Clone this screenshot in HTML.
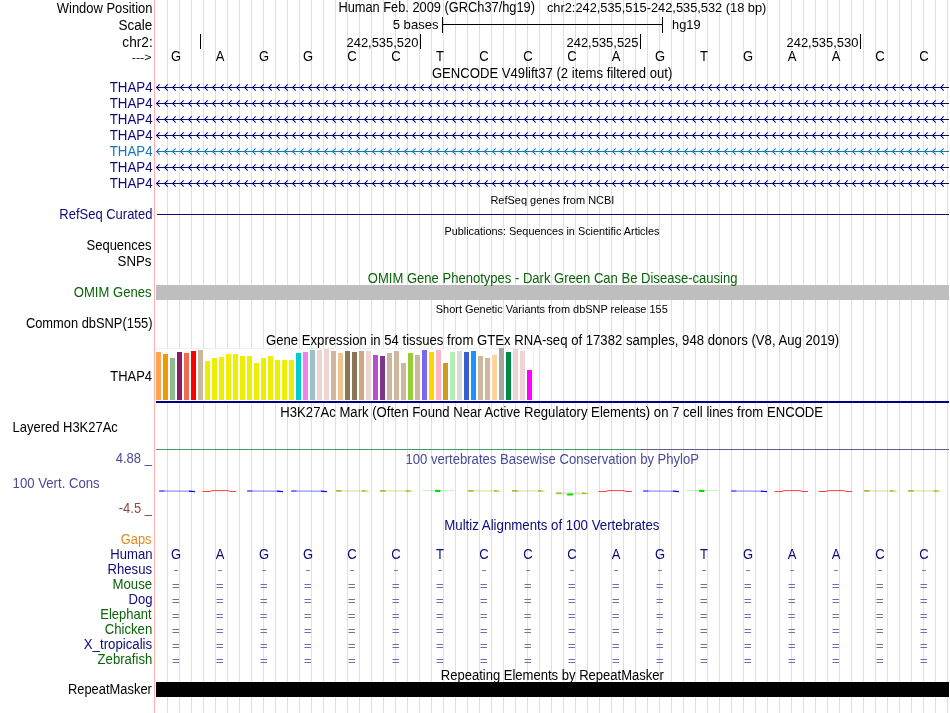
<!DOCTYPE html>
<html><head><meta charset="utf-8"><title>UCSC Genome Browser</title>
<style>html,body{margin:0;padding:0;background:#fff;overflow:hidden}svg{display:block;will-change:transform}text{shape-rendering:auto}</style>
</head><body><svg width="950" height="713" viewBox="0 0 950 713" font-family='"Liberation Sans", sans-serif' shape-rendering="crispEdges"><rect x="167" y="0" width="1" height="713" fill="#dcdcff"/><rect x="179" y="0" width="1" height="713" fill="#dcdcff"/><rect x="191" y="0" width="1" height="713" fill="#dcdcff"/><rect x="203" y="0" width="1" height="713" fill="#dcdcff"/><rect x="215" y="0" width="1" height="713" fill="#dcdcff"/><rect x="227" y="0" width="1" height="713" fill="#dcdcff"/><rect x="239" y="0" width="1" height="713" fill="#dcdcff"/><rect x="251" y="0" width="1" height="713" fill="#dcdcff"/><rect x="263" y="0" width="1" height="713" fill="#dcdcff"/><rect x="275" y="0" width="1" height="713" fill="#dcdcff"/><rect x="287" y="0" width="1" height="713" fill="#dcdcff"/><rect x="299" y="0" width="1" height="713" fill="#dcdcff"/><rect x="311" y="0" width="1" height="713" fill="#dcdcff"/><rect x="323" y="0" width="1" height="713" fill="#dcdcff"/><rect x="335" y="0" width="1" height="713" fill="#dcdcff"/><rect x="347" y="0" width="1" height="713" fill="#dcdcff"/><rect x="359" y="0" width="1" height="713" fill="#dcdcff"/><rect x="371" y="0" width="1" height="713" fill="#dcdcff"/><rect x="383" y="0" width="1" height="713" fill="#dcdcff"/><rect x="395" y="0" width="1" height="713" fill="#dcdcff"/><rect x="407" y="0" width="1" height="713" fill="#dcdcff"/><rect x="419" y="0" width="1" height="713" fill="#dcdcff"/><rect x="431" y="0" width="1" height="713" fill="#dcdcff"/><rect x="443" y="0" width="1" height="713" fill="#dcdcff"/><rect x="455" y="0" width="1" height="713" fill="#dcdcff"/><rect x="467" y="0" width="1" height="713" fill="#dcdcff"/><rect x="479" y="0" width="1" height="713" fill="#dcdcff"/><rect x="491" y="0" width="1" height="713" fill="#dcdcff"/><rect x="503" y="0" width="1" height="713" fill="#dcdcff"/><rect x="515" y="0" width="1" height="713" fill="#dcdcff"/><rect x="527" y="0" width="1" height="713" fill="#dcdcff"/><rect x="539" y="0" width="1" height="713" fill="#dcdcff"/><rect x="551" y="0" width="1" height="713" fill="#dcdcff"/><rect x="563" y="0" width="1" height="713" fill="#dcdcff"/><rect x="575" y="0" width="1" height="713" fill="#dcdcff"/><rect x="587" y="0" width="1" height="713" fill="#dcdcff"/><rect x="599" y="0" width="1" height="713" fill="#dcdcff"/><rect x="611" y="0" width="1" height="713" fill="#dcdcff"/><rect x="623" y="0" width="1" height="713" fill="#dcdcff"/><rect x="635" y="0" width="1" height="713" fill="#dcdcff"/><rect x="647" y="0" width="1" height="713" fill="#dcdcff"/><rect x="659" y="0" width="1" height="713" fill="#dcdcff"/><rect x="671" y="0" width="1" height="713" fill="#dcdcff"/><rect x="683" y="0" width="1" height="713" fill="#dcdcff"/><rect x="695" y="0" width="1" height="713" fill="#dcdcff"/><rect x="707" y="0" width="1" height="713" fill="#dcdcff"/><rect x="719" y="0" width="1" height="713" fill="#dcdcff"/><rect x="731" y="0" width="1" height="713" fill="#dcdcff"/><rect x="743" y="0" width="1" height="713" fill="#dcdcff"/><rect x="755" y="0" width="1" height="713" fill="#dcdcff"/><rect x="767" y="0" width="1" height="713" fill="#dcdcff"/><rect x="779" y="0" width="1" height="713" fill="#dcdcff"/><rect x="791" y="0" width="1" height="713" fill="#dcdcff"/><rect x="803" y="0" width="1" height="713" fill="#dcdcff"/><rect x="815" y="0" width="1" height="713" fill="#dcdcff"/><rect x="827" y="0" width="1" height="713" fill="#dcdcff"/><rect x="839" y="0" width="1" height="713" fill="#dcdcff"/><rect x="851" y="0" width="1" height="713" fill="#dcdcff"/><rect x="863" y="0" width="1" height="713" fill="#dcdcff"/><rect x="875" y="0" width="1" height="713" fill="#dcdcff"/><rect x="887" y="0" width="1" height="713" fill="#dcdcff"/><rect x="899" y="0" width="1" height="713" fill="#dcdcff"/><rect x="911" y="0" width="1" height="713" fill="#dcdcff"/><rect x="923" y="0" width="1" height="713" fill="#dcdcff"/><rect x="935" y="0" width="1" height="713" fill="#dcdcff"/><rect x="947" y="0" width="1" height="713" fill="#dcdcff"/><rect x="154" y="0" width="1" height="713" fill="#ffb0b0"/><rect x="442" y="17" width="1" height="16" fill="#000000"/><rect x="662" y="17" width="1" height="16" fill="#000000"/><rect x="442" y="24" width="221" height="1" fill="#000000"/><rect x="200" y="34" width="1" height="15" fill="#000000"/><rect x="420" y="34" width="1" height="15" fill="#000000"/><rect x="640" y="34" width="1" height="15" fill="#000000"/><rect x="860" y="34" width="1" height="15" fill="#000000"/><text transform="translate(176.00 61) scale(1.0000 1.06)" font-size="13" fill="#000000" text-anchor="middle" xml:space="preserve">G</text><text transform="translate(220.00 61) scale(1.0000 1.06)" font-size="13" fill="#000000" text-anchor="middle" xml:space="preserve">A</text><text transform="translate(264.00 61) scale(1.0000 1.06)" font-size="13" fill="#000000" text-anchor="middle" xml:space="preserve">G</text><text transform="translate(308.00 61) scale(1.0000 1.06)" font-size="13" fill="#000000" text-anchor="middle" xml:space="preserve">G</text><text transform="translate(352.00 61) scale(1.0000 1.06)" font-size="13" fill="#000000" text-anchor="middle" xml:space="preserve">C</text><text transform="translate(396.00 61) scale(1.0000 1.06)" font-size="13" fill="#000000" text-anchor="middle" xml:space="preserve">C</text><text transform="translate(440.00 61) scale(1.0000 1.06)" font-size="13" fill="#000000" text-anchor="middle" xml:space="preserve">T</text><text transform="translate(484.00 61) scale(1.0000 1.06)" font-size="13" fill="#000000" text-anchor="middle" xml:space="preserve">C</text><text transform="translate(528.00 61) scale(1.0000 1.06)" font-size="13" fill="#000000" text-anchor="middle" xml:space="preserve">C</text><text transform="translate(572.00 61) scale(1.0000 1.06)" font-size="13" fill="#000000" text-anchor="middle" xml:space="preserve">C</text><text transform="translate(616.00 61) scale(1.0000 1.06)" font-size="13" fill="#000000" text-anchor="middle" xml:space="preserve">A</text><text transform="translate(660.00 61) scale(1.0000 1.06)" font-size="13" fill="#000000" text-anchor="middle" xml:space="preserve">G</text><text transform="translate(704.00 61) scale(1.0000 1.06)" font-size="13" fill="#000000" text-anchor="middle" xml:space="preserve">T</text><text transform="translate(748.00 61) scale(1.0000 1.06)" font-size="13" fill="#000000" text-anchor="middle" xml:space="preserve">G</text><text transform="translate(792.00 61) scale(1.0000 1.06)" font-size="13" fill="#000000" text-anchor="middle" xml:space="preserve">A</text><text transform="translate(836.00 61) scale(1.0000 1.06)" font-size="13" fill="#000000" text-anchor="middle" xml:space="preserve">A</text><text transform="translate(880.00 61) scale(1.0000 1.06)" font-size="13" fill="#000000" text-anchor="middle" xml:space="preserve">C</text><text transform="translate(924.00 61) scale(1.0000 1.06)" font-size="13" fill="#000000" text-anchor="middle" xml:space="preserve">C</text><rect x="156" y="87" width="793" height="1" fill="#0c0c78"/><path d="M159.7,84.3 L156.5,87.5 L159.7,90.7 M167.7,84.3 L164.5,87.5 L167.7,90.7 M175.7,84.3 L172.5,87.5 L175.7,90.7 M183.7,84.3 L180.5,87.5 L183.7,90.7 M191.7,84.3 L188.5,87.5 L191.7,90.7 M199.7,84.3 L196.5,87.5 L199.7,90.7 M207.7,84.3 L204.5,87.5 L207.7,90.7 M215.7,84.3 L212.5,87.5 L215.7,90.7 M223.7,84.3 L220.5,87.5 L223.7,90.7 M231.7,84.3 L228.5,87.5 L231.7,90.7 M239.7,84.3 L236.5,87.5 L239.7,90.7 M247.7,84.3 L244.5,87.5 L247.7,90.7 M255.7,84.3 L252.5,87.5 L255.7,90.7 M263.7,84.3 L260.5,87.5 L263.7,90.7 M271.7,84.3 L268.5,87.5 L271.7,90.7 M279.7,84.3 L276.5,87.5 L279.7,90.7 M287.7,84.3 L284.5,87.5 L287.7,90.7 M295.7,84.3 L292.5,87.5 L295.7,90.7 M303.7,84.3 L300.5,87.5 L303.7,90.7 M311.7,84.3 L308.5,87.5 L311.7,90.7 M319.7,84.3 L316.5,87.5 L319.7,90.7 M327.7,84.3 L324.5,87.5 L327.7,90.7 M335.7,84.3 L332.5,87.5 L335.7,90.7 M343.7,84.3 L340.5,87.5 L343.7,90.7 M351.7,84.3 L348.5,87.5 L351.7,90.7 M359.7,84.3 L356.5,87.5 L359.7,90.7 M367.7,84.3 L364.5,87.5 L367.7,90.7 M375.7,84.3 L372.5,87.5 L375.7,90.7 M383.7,84.3 L380.5,87.5 L383.7,90.7 M391.7,84.3 L388.5,87.5 L391.7,90.7 M399.7,84.3 L396.5,87.5 L399.7,90.7 M407.7,84.3 L404.5,87.5 L407.7,90.7 M415.7,84.3 L412.5,87.5 L415.7,90.7 M423.7,84.3 L420.5,87.5 L423.7,90.7 M431.7,84.3 L428.5,87.5 L431.7,90.7 M439.7,84.3 L436.5,87.5 L439.7,90.7 M447.7,84.3 L444.5,87.5 L447.7,90.7 M455.7,84.3 L452.5,87.5 L455.7,90.7 M463.7,84.3 L460.5,87.5 L463.7,90.7 M471.7,84.3 L468.5,87.5 L471.7,90.7 M479.7,84.3 L476.5,87.5 L479.7,90.7 M487.7,84.3 L484.5,87.5 L487.7,90.7 M495.7,84.3 L492.5,87.5 L495.7,90.7 M503.7,84.3 L500.5,87.5 L503.7,90.7 M511.7,84.3 L508.5,87.5 L511.7,90.7 M519.7,84.3 L516.5,87.5 L519.7,90.7 M527.7,84.3 L524.5,87.5 L527.7,90.7 M535.7,84.3 L532.5,87.5 L535.7,90.7 M543.7,84.3 L540.5,87.5 L543.7,90.7 M551.7,84.3 L548.5,87.5 L551.7,90.7 M559.7,84.3 L556.5,87.5 L559.7,90.7 M567.7,84.3 L564.5,87.5 L567.7,90.7 M575.7,84.3 L572.5,87.5 L575.7,90.7 M583.7,84.3 L580.5,87.5 L583.7,90.7 M591.7,84.3 L588.5,87.5 L591.7,90.7 M599.7,84.3 L596.5,87.5 L599.7,90.7 M607.7,84.3 L604.5,87.5 L607.7,90.7 M615.7,84.3 L612.5,87.5 L615.7,90.7 M623.7,84.3 L620.5,87.5 L623.7,90.7 M631.7,84.3 L628.5,87.5 L631.7,90.7 M639.7,84.3 L636.5,87.5 L639.7,90.7 M647.7,84.3 L644.5,87.5 L647.7,90.7 M655.7,84.3 L652.5,87.5 L655.7,90.7 M663.7,84.3 L660.5,87.5 L663.7,90.7 M671.7,84.3 L668.5,87.5 L671.7,90.7 M679.7,84.3 L676.5,87.5 L679.7,90.7 M687.7,84.3 L684.5,87.5 L687.7,90.7 M695.7,84.3 L692.5,87.5 L695.7,90.7 M703.7,84.3 L700.5,87.5 L703.7,90.7 M711.7,84.3 L708.5,87.5 L711.7,90.7 M719.7,84.3 L716.5,87.5 L719.7,90.7 M727.7,84.3 L724.5,87.5 L727.7,90.7 M735.7,84.3 L732.5,87.5 L735.7,90.7 M743.7,84.3 L740.5,87.5 L743.7,90.7 M751.7,84.3 L748.5,87.5 L751.7,90.7 M759.7,84.3 L756.5,87.5 L759.7,90.7 M767.7,84.3 L764.5,87.5 L767.7,90.7 M775.7,84.3 L772.5,87.5 L775.7,90.7 M783.7,84.3 L780.5,87.5 L783.7,90.7 M791.7,84.3 L788.5,87.5 L791.7,90.7 M799.7,84.3 L796.5,87.5 L799.7,90.7 M807.7,84.3 L804.5,87.5 L807.7,90.7 M815.7,84.3 L812.5,87.5 L815.7,90.7 M823.7,84.3 L820.5,87.5 L823.7,90.7 M831.7,84.3 L828.5,87.5 L831.7,90.7 M839.7,84.3 L836.5,87.5 L839.7,90.7 M847.7,84.3 L844.5,87.5 L847.7,90.7 M855.7,84.3 L852.5,87.5 L855.7,90.7 M863.7,84.3 L860.5,87.5 L863.7,90.7 M871.7,84.3 L868.5,87.5 L871.7,90.7 M879.7,84.3 L876.5,87.5 L879.7,90.7 M887.7,84.3 L884.5,87.5 L887.7,90.7 M895.7,84.3 L892.5,87.5 L895.7,90.7 M903.7,84.3 L900.5,87.5 L903.7,90.7 M911.7,84.3 L908.5,87.5 L911.7,90.7 M919.7,84.3 L916.5,87.5 L919.7,90.7 M927.7,84.3 L924.5,87.5 L927.7,90.7 M935.7,84.3 L932.5,87.5 L935.7,90.7 M943.7,84.3 L940.5,87.5 L943.7,90.7 " stroke="#0c0c78" stroke-width="1.1" fill="none" shape-rendering="auto"/><rect x="156" y="103" width="793" height="1" fill="#0c0c78"/><path d="M159.7,100.3 L156.5,103.5 L159.7,106.7 M167.7,100.3 L164.5,103.5 L167.7,106.7 M175.7,100.3 L172.5,103.5 L175.7,106.7 M183.7,100.3 L180.5,103.5 L183.7,106.7 M191.7,100.3 L188.5,103.5 L191.7,106.7 M199.7,100.3 L196.5,103.5 L199.7,106.7 M207.7,100.3 L204.5,103.5 L207.7,106.7 M215.7,100.3 L212.5,103.5 L215.7,106.7 M223.7,100.3 L220.5,103.5 L223.7,106.7 M231.7,100.3 L228.5,103.5 L231.7,106.7 M239.7,100.3 L236.5,103.5 L239.7,106.7 M247.7,100.3 L244.5,103.5 L247.7,106.7 M255.7,100.3 L252.5,103.5 L255.7,106.7 M263.7,100.3 L260.5,103.5 L263.7,106.7 M271.7,100.3 L268.5,103.5 L271.7,106.7 M279.7,100.3 L276.5,103.5 L279.7,106.7 M287.7,100.3 L284.5,103.5 L287.7,106.7 M295.7,100.3 L292.5,103.5 L295.7,106.7 M303.7,100.3 L300.5,103.5 L303.7,106.7 M311.7,100.3 L308.5,103.5 L311.7,106.7 M319.7,100.3 L316.5,103.5 L319.7,106.7 M327.7,100.3 L324.5,103.5 L327.7,106.7 M335.7,100.3 L332.5,103.5 L335.7,106.7 M343.7,100.3 L340.5,103.5 L343.7,106.7 M351.7,100.3 L348.5,103.5 L351.7,106.7 M359.7,100.3 L356.5,103.5 L359.7,106.7 M367.7,100.3 L364.5,103.5 L367.7,106.7 M375.7,100.3 L372.5,103.5 L375.7,106.7 M383.7,100.3 L380.5,103.5 L383.7,106.7 M391.7,100.3 L388.5,103.5 L391.7,106.7 M399.7,100.3 L396.5,103.5 L399.7,106.7 M407.7,100.3 L404.5,103.5 L407.7,106.7 M415.7,100.3 L412.5,103.5 L415.7,106.7 M423.7,100.3 L420.5,103.5 L423.7,106.7 M431.7,100.3 L428.5,103.5 L431.7,106.7 M439.7,100.3 L436.5,103.5 L439.7,106.7 M447.7,100.3 L444.5,103.5 L447.7,106.7 M455.7,100.3 L452.5,103.5 L455.7,106.7 M463.7,100.3 L460.5,103.5 L463.7,106.7 M471.7,100.3 L468.5,103.5 L471.7,106.7 M479.7,100.3 L476.5,103.5 L479.7,106.7 M487.7,100.3 L484.5,103.5 L487.7,106.7 M495.7,100.3 L492.5,103.5 L495.7,106.7 M503.7,100.3 L500.5,103.5 L503.7,106.7 M511.7,100.3 L508.5,103.5 L511.7,106.7 M519.7,100.3 L516.5,103.5 L519.7,106.7 M527.7,100.3 L524.5,103.5 L527.7,106.7 M535.7,100.3 L532.5,103.5 L535.7,106.7 M543.7,100.3 L540.5,103.5 L543.7,106.7 M551.7,100.3 L548.5,103.5 L551.7,106.7 M559.7,100.3 L556.5,103.5 L559.7,106.7 M567.7,100.3 L564.5,103.5 L567.7,106.7 M575.7,100.3 L572.5,103.5 L575.7,106.7 M583.7,100.3 L580.5,103.5 L583.7,106.7 M591.7,100.3 L588.5,103.5 L591.7,106.7 M599.7,100.3 L596.5,103.5 L599.7,106.7 M607.7,100.3 L604.5,103.5 L607.7,106.7 M615.7,100.3 L612.5,103.5 L615.7,106.7 M623.7,100.3 L620.5,103.5 L623.7,106.7 M631.7,100.3 L628.5,103.5 L631.7,106.7 M639.7,100.3 L636.5,103.5 L639.7,106.7 M647.7,100.3 L644.5,103.5 L647.7,106.7 M655.7,100.3 L652.5,103.5 L655.7,106.7 M663.7,100.3 L660.5,103.5 L663.7,106.7 M671.7,100.3 L668.5,103.5 L671.7,106.7 M679.7,100.3 L676.5,103.5 L679.7,106.7 M687.7,100.3 L684.5,103.5 L687.7,106.7 M695.7,100.3 L692.5,103.5 L695.7,106.7 M703.7,100.3 L700.5,103.5 L703.7,106.7 M711.7,100.3 L708.5,103.5 L711.7,106.7 M719.7,100.3 L716.5,103.5 L719.7,106.7 M727.7,100.3 L724.5,103.5 L727.7,106.7 M735.7,100.3 L732.5,103.5 L735.7,106.7 M743.7,100.3 L740.5,103.5 L743.7,106.7 M751.7,100.3 L748.5,103.5 L751.7,106.7 M759.7,100.3 L756.5,103.5 L759.7,106.7 M767.7,100.3 L764.5,103.5 L767.7,106.7 M775.7,100.3 L772.5,103.5 L775.7,106.7 M783.7,100.3 L780.5,103.5 L783.7,106.7 M791.7,100.3 L788.5,103.5 L791.7,106.7 M799.7,100.3 L796.5,103.5 L799.7,106.7 M807.7,100.3 L804.5,103.5 L807.7,106.7 M815.7,100.3 L812.5,103.5 L815.7,106.7 M823.7,100.3 L820.5,103.5 L823.7,106.7 M831.7,100.3 L828.5,103.5 L831.7,106.7 M839.7,100.3 L836.5,103.5 L839.7,106.7 M847.7,100.3 L844.5,103.5 L847.7,106.7 M855.7,100.3 L852.5,103.5 L855.7,106.7 M863.7,100.3 L860.5,103.5 L863.7,106.7 M871.7,100.3 L868.5,103.5 L871.7,106.7 M879.7,100.3 L876.5,103.5 L879.7,106.7 M887.7,100.3 L884.5,103.5 L887.7,106.7 M895.7,100.3 L892.5,103.5 L895.7,106.7 M903.7,100.3 L900.5,103.5 L903.7,106.7 M911.7,100.3 L908.5,103.5 L911.7,106.7 M919.7,100.3 L916.5,103.5 L919.7,106.7 M927.7,100.3 L924.5,103.5 L927.7,106.7 M935.7,100.3 L932.5,103.5 L935.7,106.7 M943.7,100.3 L940.5,103.5 L943.7,106.7 " stroke="#0c0c78" stroke-width="1.1" fill="none" shape-rendering="auto"/><rect x="156" y="119" width="793" height="1" fill="#0c0c78"/><path d="M159.7,116.3 L156.5,119.5 L159.7,122.7 M167.7,116.3 L164.5,119.5 L167.7,122.7 M175.7,116.3 L172.5,119.5 L175.7,122.7 M183.7,116.3 L180.5,119.5 L183.7,122.7 M191.7,116.3 L188.5,119.5 L191.7,122.7 M199.7,116.3 L196.5,119.5 L199.7,122.7 M207.7,116.3 L204.5,119.5 L207.7,122.7 M215.7,116.3 L212.5,119.5 L215.7,122.7 M223.7,116.3 L220.5,119.5 L223.7,122.7 M231.7,116.3 L228.5,119.5 L231.7,122.7 M239.7,116.3 L236.5,119.5 L239.7,122.7 M247.7,116.3 L244.5,119.5 L247.7,122.7 M255.7,116.3 L252.5,119.5 L255.7,122.7 M263.7,116.3 L260.5,119.5 L263.7,122.7 M271.7,116.3 L268.5,119.5 L271.7,122.7 M279.7,116.3 L276.5,119.5 L279.7,122.7 M287.7,116.3 L284.5,119.5 L287.7,122.7 M295.7,116.3 L292.5,119.5 L295.7,122.7 M303.7,116.3 L300.5,119.5 L303.7,122.7 M311.7,116.3 L308.5,119.5 L311.7,122.7 M319.7,116.3 L316.5,119.5 L319.7,122.7 M327.7,116.3 L324.5,119.5 L327.7,122.7 M335.7,116.3 L332.5,119.5 L335.7,122.7 M343.7,116.3 L340.5,119.5 L343.7,122.7 M351.7,116.3 L348.5,119.5 L351.7,122.7 M359.7,116.3 L356.5,119.5 L359.7,122.7 M367.7,116.3 L364.5,119.5 L367.7,122.7 M375.7,116.3 L372.5,119.5 L375.7,122.7 M383.7,116.3 L380.5,119.5 L383.7,122.7 M391.7,116.3 L388.5,119.5 L391.7,122.7 M399.7,116.3 L396.5,119.5 L399.7,122.7 M407.7,116.3 L404.5,119.5 L407.7,122.7 M415.7,116.3 L412.5,119.5 L415.7,122.7 M423.7,116.3 L420.5,119.5 L423.7,122.7 M431.7,116.3 L428.5,119.5 L431.7,122.7 M439.7,116.3 L436.5,119.5 L439.7,122.7 M447.7,116.3 L444.5,119.5 L447.7,122.7 M455.7,116.3 L452.5,119.5 L455.7,122.7 M463.7,116.3 L460.5,119.5 L463.7,122.7 M471.7,116.3 L468.5,119.5 L471.7,122.7 M479.7,116.3 L476.5,119.5 L479.7,122.7 M487.7,116.3 L484.5,119.5 L487.7,122.7 M495.7,116.3 L492.5,119.5 L495.7,122.7 M503.7,116.3 L500.5,119.5 L503.7,122.7 M511.7,116.3 L508.5,119.5 L511.7,122.7 M519.7,116.3 L516.5,119.5 L519.7,122.7 M527.7,116.3 L524.5,119.5 L527.7,122.7 M535.7,116.3 L532.5,119.5 L535.7,122.7 M543.7,116.3 L540.5,119.5 L543.7,122.7 M551.7,116.3 L548.5,119.5 L551.7,122.7 M559.7,116.3 L556.5,119.5 L559.7,122.7 M567.7,116.3 L564.5,119.5 L567.7,122.7 M575.7,116.3 L572.5,119.5 L575.7,122.7 M583.7,116.3 L580.5,119.5 L583.7,122.7 M591.7,116.3 L588.5,119.5 L591.7,122.7 M599.7,116.3 L596.5,119.5 L599.7,122.7 M607.7,116.3 L604.5,119.5 L607.7,122.7 M615.7,116.3 L612.5,119.5 L615.7,122.7 M623.7,116.3 L620.5,119.5 L623.7,122.7 M631.7,116.3 L628.5,119.5 L631.7,122.7 M639.7,116.3 L636.5,119.5 L639.7,122.7 M647.7,116.3 L644.5,119.5 L647.7,122.7 M655.7,116.3 L652.5,119.5 L655.7,122.7 M663.7,116.3 L660.5,119.5 L663.7,122.7 M671.7,116.3 L668.5,119.5 L671.7,122.7 M679.7,116.3 L676.5,119.5 L679.7,122.7 M687.7,116.3 L684.5,119.5 L687.7,122.7 M695.7,116.3 L692.5,119.5 L695.7,122.7 M703.7,116.3 L700.5,119.5 L703.7,122.7 M711.7,116.3 L708.5,119.5 L711.7,122.7 M719.7,116.3 L716.5,119.5 L719.7,122.7 M727.7,116.3 L724.5,119.5 L727.7,122.7 M735.7,116.3 L732.5,119.5 L735.7,122.7 M743.7,116.3 L740.5,119.5 L743.7,122.7 M751.7,116.3 L748.5,119.5 L751.7,122.7 M759.7,116.3 L756.5,119.5 L759.7,122.7 M767.7,116.3 L764.5,119.5 L767.7,122.7 M775.7,116.3 L772.5,119.5 L775.7,122.7 M783.7,116.3 L780.5,119.5 L783.7,122.7 M791.7,116.3 L788.5,119.5 L791.7,122.7 M799.7,116.3 L796.5,119.5 L799.7,122.7 M807.7,116.3 L804.5,119.5 L807.7,122.7 M815.7,116.3 L812.5,119.5 L815.7,122.7 M823.7,116.3 L820.5,119.5 L823.7,122.7 M831.7,116.3 L828.5,119.5 L831.7,122.7 M839.7,116.3 L836.5,119.5 L839.7,122.7 M847.7,116.3 L844.5,119.5 L847.7,122.7 M855.7,116.3 L852.5,119.5 L855.7,122.7 M863.7,116.3 L860.5,119.5 L863.7,122.7 M871.7,116.3 L868.5,119.5 L871.7,122.7 M879.7,116.3 L876.5,119.5 L879.7,122.7 M887.7,116.3 L884.5,119.5 L887.7,122.7 M895.7,116.3 L892.5,119.5 L895.7,122.7 M903.7,116.3 L900.5,119.5 L903.7,122.7 M911.7,116.3 L908.5,119.5 L911.7,122.7 M919.7,116.3 L916.5,119.5 L919.7,122.7 M927.7,116.3 L924.5,119.5 L927.7,122.7 M935.7,116.3 L932.5,119.5 L935.7,122.7 M943.7,116.3 L940.5,119.5 L943.7,122.7 " stroke="#0c0c78" stroke-width="1.1" fill="none" shape-rendering="auto"/><rect x="156" y="135" width="793" height="1" fill="#0c0c78"/><path d="M159.7,132.3 L156.5,135.5 L159.7,138.7 M167.7,132.3 L164.5,135.5 L167.7,138.7 M175.7,132.3 L172.5,135.5 L175.7,138.7 M183.7,132.3 L180.5,135.5 L183.7,138.7 M191.7,132.3 L188.5,135.5 L191.7,138.7 M199.7,132.3 L196.5,135.5 L199.7,138.7 M207.7,132.3 L204.5,135.5 L207.7,138.7 M215.7,132.3 L212.5,135.5 L215.7,138.7 M223.7,132.3 L220.5,135.5 L223.7,138.7 M231.7,132.3 L228.5,135.5 L231.7,138.7 M239.7,132.3 L236.5,135.5 L239.7,138.7 M247.7,132.3 L244.5,135.5 L247.7,138.7 M255.7,132.3 L252.5,135.5 L255.7,138.7 M263.7,132.3 L260.5,135.5 L263.7,138.7 M271.7,132.3 L268.5,135.5 L271.7,138.7 M279.7,132.3 L276.5,135.5 L279.7,138.7 M287.7,132.3 L284.5,135.5 L287.7,138.7 M295.7,132.3 L292.5,135.5 L295.7,138.7 M303.7,132.3 L300.5,135.5 L303.7,138.7 M311.7,132.3 L308.5,135.5 L311.7,138.7 M319.7,132.3 L316.5,135.5 L319.7,138.7 M327.7,132.3 L324.5,135.5 L327.7,138.7 M335.7,132.3 L332.5,135.5 L335.7,138.7 M343.7,132.3 L340.5,135.5 L343.7,138.7 M351.7,132.3 L348.5,135.5 L351.7,138.7 M359.7,132.3 L356.5,135.5 L359.7,138.7 M367.7,132.3 L364.5,135.5 L367.7,138.7 M375.7,132.3 L372.5,135.5 L375.7,138.7 M383.7,132.3 L380.5,135.5 L383.7,138.7 M391.7,132.3 L388.5,135.5 L391.7,138.7 M399.7,132.3 L396.5,135.5 L399.7,138.7 M407.7,132.3 L404.5,135.5 L407.7,138.7 M415.7,132.3 L412.5,135.5 L415.7,138.7 M423.7,132.3 L420.5,135.5 L423.7,138.7 M431.7,132.3 L428.5,135.5 L431.7,138.7 M439.7,132.3 L436.5,135.5 L439.7,138.7 M447.7,132.3 L444.5,135.5 L447.7,138.7 M455.7,132.3 L452.5,135.5 L455.7,138.7 M463.7,132.3 L460.5,135.5 L463.7,138.7 M471.7,132.3 L468.5,135.5 L471.7,138.7 M479.7,132.3 L476.5,135.5 L479.7,138.7 M487.7,132.3 L484.5,135.5 L487.7,138.7 M495.7,132.3 L492.5,135.5 L495.7,138.7 M503.7,132.3 L500.5,135.5 L503.7,138.7 M511.7,132.3 L508.5,135.5 L511.7,138.7 M519.7,132.3 L516.5,135.5 L519.7,138.7 M527.7,132.3 L524.5,135.5 L527.7,138.7 M535.7,132.3 L532.5,135.5 L535.7,138.7 M543.7,132.3 L540.5,135.5 L543.7,138.7 M551.7,132.3 L548.5,135.5 L551.7,138.7 M559.7,132.3 L556.5,135.5 L559.7,138.7 M567.7,132.3 L564.5,135.5 L567.7,138.7 M575.7,132.3 L572.5,135.5 L575.7,138.7 M583.7,132.3 L580.5,135.5 L583.7,138.7 M591.7,132.3 L588.5,135.5 L591.7,138.7 M599.7,132.3 L596.5,135.5 L599.7,138.7 M607.7,132.3 L604.5,135.5 L607.7,138.7 M615.7,132.3 L612.5,135.5 L615.7,138.7 M623.7,132.3 L620.5,135.5 L623.7,138.7 M631.7,132.3 L628.5,135.5 L631.7,138.7 M639.7,132.3 L636.5,135.5 L639.7,138.7 M647.7,132.3 L644.5,135.5 L647.7,138.7 M655.7,132.3 L652.5,135.5 L655.7,138.7 M663.7,132.3 L660.5,135.5 L663.7,138.7 M671.7,132.3 L668.5,135.5 L671.7,138.7 M679.7,132.3 L676.5,135.5 L679.7,138.7 M687.7,132.3 L684.5,135.5 L687.7,138.7 M695.7,132.3 L692.5,135.5 L695.7,138.7 M703.7,132.3 L700.5,135.5 L703.7,138.7 M711.7,132.3 L708.5,135.5 L711.7,138.7 M719.7,132.3 L716.5,135.5 L719.7,138.7 M727.7,132.3 L724.5,135.5 L727.7,138.7 M735.7,132.3 L732.5,135.5 L735.7,138.7 M743.7,132.3 L740.5,135.5 L743.7,138.7 M751.7,132.3 L748.5,135.5 L751.7,138.7 M759.7,132.3 L756.5,135.5 L759.7,138.7 M767.7,132.3 L764.5,135.5 L767.7,138.7 M775.7,132.3 L772.5,135.5 L775.7,138.7 M783.7,132.3 L780.5,135.5 L783.7,138.7 M791.7,132.3 L788.5,135.5 L791.7,138.7 M799.7,132.3 L796.5,135.5 L799.7,138.7 M807.7,132.3 L804.5,135.5 L807.7,138.7 M815.7,132.3 L812.5,135.5 L815.7,138.7 M823.7,132.3 L820.5,135.5 L823.7,138.7 M831.7,132.3 L828.5,135.5 L831.7,138.7 M839.7,132.3 L836.5,135.5 L839.7,138.7 M847.7,132.3 L844.5,135.5 L847.7,138.7 M855.7,132.3 L852.5,135.5 L855.7,138.7 M863.7,132.3 L860.5,135.5 L863.7,138.7 M871.7,132.3 L868.5,135.5 L871.7,138.7 M879.7,132.3 L876.5,135.5 L879.7,138.7 M887.7,132.3 L884.5,135.5 L887.7,138.7 M895.7,132.3 L892.5,135.5 L895.7,138.7 M903.7,132.3 L900.5,135.5 L903.7,138.7 M911.7,132.3 L908.5,135.5 L911.7,138.7 M919.7,132.3 L916.5,135.5 L919.7,138.7 M927.7,132.3 L924.5,135.5 L927.7,138.7 M935.7,132.3 L932.5,135.5 L935.7,138.7 M943.7,132.3 L940.5,135.5 L943.7,138.7 " stroke="#0c0c78" stroke-width="1.1" fill="none" shape-rendering="auto"/><rect x="156" y="151" width="793" height="1" fill="#1478b4"/><path d="M159.7,148.3 L156.5,151.5 L159.7,154.7 M167.7,148.3 L164.5,151.5 L167.7,154.7 M175.7,148.3 L172.5,151.5 L175.7,154.7 M183.7,148.3 L180.5,151.5 L183.7,154.7 M191.7,148.3 L188.5,151.5 L191.7,154.7 M199.7,148.3 L196.5,151.5 L199.7,154.7 M207.7,148.3 L204.5,151.5 L207.7,154.7 M215.7,148.3 L212.5,151.5 L215.7,154.7 M223.7,148.3 L220.5,151.5 L223.7,154.7 M231.7,148.3 L228.5,151.5 L231.7,154.7 M239.7,148.3 L236.5,151.5 L239.7,154.7 M247.7,148.3 L244.5,151.5 L247.7,154.7 M255.7,148.3 L252.5,151.5 L255.7,154.7 M263.7,148.3 L260.5,151.5 L263.7,154.7 M271.7,148.3 L268.5,151.5 L271.7,154.7 M279.7,148.3 L276.5,151.5 L279.7,154.7 M287.7,148.3 L284.5,151.5 L287.7,154.7 M295.7,148.3 L292.5,151.5 L295.7,154.7 M303.7,148.3 L300.5,151.5 L303.7,154.7 M311.7,148.3 L308.5,151.5 L311.7,154.7 M319.7,148.3 L316.5,151.5 L319.7,154.7 M327.7,148.3 L324.5,151.5 L327.7,154.7 M335.7,148.3 L332.5,151.5 L335.7,154.7 M343.7,148.3 L340.5,151.5 L343.7,154.7 M351.7,148.3 L348.5,151.5 L351.7,154.7 M359.7,148.3 L356.5,151.5 L359.7,154.7 M367.7,148.3 L364.5,151.5 L367.7,154.7 M375.7,148.3 L372.5,151.5 L375.7,154.7 M383.7,148.3 L380.5,151.5 L383.7,154.7 M391.7,148.3 L388.5,151.5 L391.7,154.7 M399.7,148.3 L396.5,151.5 L399.7,154.7 M407.7,148.3 L404.5,151.5 L407.7,154.7 M415.7,148.3 L412.5,151.5 L415.7,154.7 M423.7,148.3 L420.5,151.5 L423.7,154.7 M431.7,148.3 L428.5,151.5 L431.7,154.7 M439.7,148.3 L436.5,151.5 L439.7,154.7 M447.7,148.3 L444.5,151.5 L447.7,154.7 M455.7,148.3 L452.5,151.5 L455.7,154.7 M463.7,148.3 L460.5,151.5 L463.7,154.7 M471.7,148.3 L468.5,151.5 L471.7,154.7 M479.7,148.3 L476.5,151.5 L479.7,154.7 M487.7,148.3 L484.5,151.5 L487.7,154.7 M495.7,148.3 L492.5,151.5 L495.7,154.7 M503.7,148.3 L500.5,151.5 L503.7,154.7 M511.7,148.3 L508.5,151.5 L511.7,154.7 M519.7,148.3 L516.5,151.5 L519.7,154.7 M527.7,148.3 L524.5,151.5 L527.7,154.7 M535.7,148.3 L532.5,151.5 L535.7,154.7 M543.7,148.3 L540.5,151.5 L543.7,154.7 M551.7,148.3 L548.5,151.5 L551.7,154.7 M559.7,148.3 L556.5,151.5 L559.7,154.7 M567.7,148.3 L564.5,151.5 L567.7,154.7 M575.7,148.3 L572.5,151.5 L575.7,154.7 M583.7,148.3 L580.5,151.5 L583.7,154.7 M591.7,148.3 L588.5,151.5 L591.7,154.7 M599.7,148.3 L596.5,151.5 L599.7,154.7 M607.7,148.3 L604.5,151.5 L607.7,154.7 M615.7,148.3 L612.5,151.5 L615.7,154.7 M623.7,148.3 L620.5,151.5 L623.7,154.7 M631.7,148.3 L628.5,151.5 L631.7,154.7 M639.7,148.3 L636.5,151.5 L639.7,154.7 M647.7,148.3 L644.5,151.5 L647.7,154.7 M655.7,148.3 L652.5,151.5 L655.7,154.7 M663.7,148.3 L660.5,151.5 L663.7,154.7 M671.7,148.3 L668.5,151.5 L671.7,154.7 M679.7,148.3 L676.5,151.5 L679.7,154.7 M687.7,148.3 L684.5,151.5 L687.7,154.7 M695.7,148.3 L692.5,151.5 L695.7,154.7 M703.7,148.3 L700.5,151.5 L703.7,154.7 M711.7,148.3 L708.5,151.5 L711.7,154.7 M719.7,148.3 L716.5,151.5 L719.7,154.7 M727.7,148.3 L724.5,151.5 L727.7,154.7 M735.7,148.3 L732.5,151.5 L735.7,154.7 M743.7,148.3 L740.5,151.5 L743.7,154.7 M751.7,148.3 L748.5,151.5 L751.7,154.7 M759.7,148.3 L756.5,151.5 L759.7,154.7 M767.7,148.3 L764.5,151.5 L767.7,154.7 M775.7,148.3 L772.5,151.5 L775.7,154.7 M783.7,148.3 L780.5,151.5 L783.7,154.7 M791.7,148.3 L788.5,151.5 L791.7,154.7 M799.7,148.3 L796.5,151.5 L799.7,154.7 M807.7,148.3 L804.5,151.5 L807.7,154.7 M815.7,148.3 L812.5,151.5 L815.7,154.7 M823.7,148.3 L820.5,151.5 L823.7,154.7 M831.7,148.3 L828.5,151.5 L831.7,154.7 M839.7,148.3 L836.5,151.5 L839.7,154.7 M847.7,148.3 L844.5,151.5 L847.7,154.7 M855.7,148.3 L852.5,151.5 L855.7,154.7 M863.7,148.3 L860.5,151.5 L863.7,154.7 M871.7,148.3 L868.5,151.5 L871.7,154.7 M879.7,148.3 L876.5,151.5 L879.7,154.7 M887.7,148.3 L884.5,151.5 L887.7,154.7 M895.7,148.3 L892.5,151.5 L895.7,154.7 M903.7,148.3 L900.5,151.5 L903.7,154.7 M911.7,148.3 L908.5,151.5 L911.7,154.7 M919.7,148.3 L916.5,151.5 L919.7,154.7 M927.7,148.3 L924.5,151.5 L927.7,154.7 M935.7,148.3 L932.5,151.5 L935.7,154.7 M943.7,148.3 L940.5,151.5 L943.7,154.7 " stroke="#1478b4" stroke-width="1.1" fill="none" shape-rendering="auto"/><rect x="156" y="167" width="793" height="1" fill="#0c0c78"/><path d="M159.7,164.3 L156.5,167.5 L159.7,170.7 M167.7,164.3 L164.5,167.5 L167.7,170.7 M175.7,164.3 L172.5,167.5 L175.7,170.7 M183.7,164.3 L180.5,167.5 L183.7,170.7 M191.7,164.3 L188.5,167.5 L191.7,170.7 M199.7,164.3 L196.5,167.5 L199.7,170.7 M207.7,164.3 L204.5,167.5 L207.7,170.7 M215.7,164.3 L212.5,167.5 L215.7,170.7 M223.7,164.3 L220.5,167.5 L223.7,170.7 M231.7,164.3 L228.5,167.5 L231.7,170.7 M239.7,164.3 L236.5,167.5 L239.7,170.7 M247.7,164.3 L244.5,167.5 L247.7,170.7 M255.7,164.3 L252.5,167.5 L255.7,170.7 M263.7,164.3 L260.5,167.5 L263.7,170.7 M271.7,164.3 L268.5,167.5 L271.7,170.7 M279.7,164.3 L276.5,167.5 L279.7,170.7 M287.7,164.3 L284.5,167.5 L287.7,170.7 M295.7,164.3 L292.5,167.5 L295.7,170.7 M303.7,164.3 L300.5,167.5 L303.7,170.7 M311.7,164.3 L308.5,167.5 L311.7,170.7 M319.7,164.3 L316.5,167.5 L319.7,170.7 M327.7,164.3 L324.5,167.5 L327.7,170.7 M335.7,164.3 L332.5,167.5 L335.7,170.7 M343.7,164.3 L340.5,167.5 L343.7,170.7 M351.7,164.3 L348.5,167.5 L351.7,170.7 M359.7,164.3 L356.5,167.5 L359.7,170.7 M367.7,164.3 L364.5,167.5 L367.7,170.7 M375.7,164.3 L372.5,167.5 L375.7,170.7 M383.7,164.3 L380.5,167.5 L383.7,170.7 M391.7,164.3 L388.5,167.5 L391.7,170.7 M399.7,164.3 L396.5,167.5 L399.7,170.7 M407.7,164.3 L404.5,167.5 L407.7,170.7 M415.7,164.3 L412.5,167.5 L415.7,170.7 M423.7,164.3 L420.5,167.5 L423.7,170.7 M431.7,164.3 L428.5,167.5 L431.7,170.7 M439.7,164.3 L436.5,167.5 L439.7,170.7 M447.7,164.3 L444.5,167.5 L447.7,170.7 M455.7,164.3 L452.5,167.5 L455.7,170.7 M463.7,164.3 L460.5,167.5 L463.7,170.7 M471.7,164.3 L468.5,167.5 L471.7,170.7 M479.7,164.3 L476.5,167.5 L479.7,170.7 M487.7,164.3 L484.5,167.5 L487.7,170.7 M495.7,164.3 L492.5,167.5 L495.7,170.7 M503.7,164.3 L500.5,167.5 L503.7,170.7 M511.7,164.3 L508.5,167.5 L511.7,170.7 M519.7,164.3 L516.5,167.5 L519.7,170.7 M527.7,164.3 L524.5,167.5 L527.7,170.7 M535.7,164.3 L532.5,167.5 L535.7,170.7 M543.7,164.3 L540.5,167.5 L543.7,170.7 M551.7,164.3 L548.5,167.5 L551.7,170.7 M559.7,164.3 L556.5,167.5 L559.7,170.7 M567.7,164.3 L564.5,167.5 L567.7,170.7 M575.7,164.3 L572.5,167.5 L575.7,170.7 M583.7,164.3 L580.5,167.5 L583.7,170.7 M591.7,164.3 L588.5,167.5 L591.7,170.7 M599.7,164.3 L596.5,167.5 L599.7,170.7 M607.7,164.3 L604.5,167.5 L607.7,170.7 M615.7,164.3 L612.5,167.5 L615.7,170.7 M623.7,164.3 L620.5,167.5 L623.7,170.7 M631.7,164.3 L628.5,167.5 L631.7,170.7 M639.7,164.3 L636.5,167.5 L639.7,170.7 M647.7,164.3 L644.5,167.5 L647.7,170.7 M655.7,164.3 L652.5,167.5 L655.7,170.7 M663.7,164.3 L660.5,167.5 L663.7,170.7 M671.7,164.3 L668.5,167.5 L671.7,170.7 M679.7,164.3 L676.5,167.5 L679.7,170.7 M687.7,164.3 L684.5,167.5 L687.7,170.7 M695.7,164.3 L692.5,167.5 L695.7,170.7 M703.7,164.3 L700.5,167.5 L703.7,170.7 M711.7,164.3 L708.5,167.5 L711.7,170.7 M719.7,164.3 L716.5,167.5 L719.7,170.7 M727.7,164.3 L724.5,167.5 L727.7,170.7 M735.7,164.3 L732.5,167.5 L735.7,170.7 M743.7,164.3 L740.5,167.5 L743.7,170.7 M751.7,164.3 L748.5,167.5 L751.7,170.7 M759.7,164.3 L756.5,167.5 L759.7,170.7 M767.7,164.3 L764.5,167.5 L767.7,170.7 M775.7,164.3 L772.5,167.5 L775.7,170.7 M783.7,164.3 L780.5,167.5 L783.7,170.7 M791.7,164.3 L788.5,167.5 L791.7,170.7 M799.7,164.3 L796.5,167.5 L799.7,170.7 M807.7,164.3 L804.5,167.5 L807.7,170.7 M815.7,164.3 L812.5,167.5 L815.7,170.7 M823.7,164.3 L820.5,167.5 L823.7,170.7 M831.7,164.3 L828.5,167.5 L831.7,170.7 M839.7,164.3 L836.5,167.5 L839.7,170.7 M847.7,164.3 L844.5,167.5 L847.7,170.7 M855.7,164.3 L852.5,167.5 L855.7,170.7 M863.7,164.3 L860.5,167.5 L863.7,170.7 M871.7,164.3 L868.5,167.5 L871.7,170.7 M879.7,164.3 L876.5,167.5 L879.7,170.7 M887.7,164.3 L884.5,167.5 L887.7,170.7 M895.7,164.3 L892.5,167.5 L895.7,170.7 M903.7,164.3 L900.5,167.5 L903.7,170.7 M911.7,164.3 L908.5,167.5 L911.7,170.7 M919.7,164.3 L916.5,167.5 L919.7,170.7 M927.7,164.3 L924.5,167.5 L927.7,170.7 M935.7,164.3 L932.5,167.5 L935.7,170.7 M943.7,164.3 L940.5,167.5 L943.7,170.7 " stroke="#0c0c78" stroke-width="1.1" fill="none" shape-rendering="auto"/><rect x="156" y="183" width="793" height="1" fill="#0c0c78"/><path d="M159.7,180.3 L156.5,183.5 L159.7,186.7 M167.7,180.3 L164.5,183.5 L167.7,186.7 M175.7,180.3 L172.5,183.5 L175.7,186.7 M183.7,180.3 L180.5,183.5 L183.7,186.7 M191.7,180.3 L188.5,183.5 L191.7,186.7 M199.7,180.3 L196.5,183.5 L199.7,186.7 M207.7,180.3 L204.5,183.5 L207.7,186.7 M215.7,180.3 L212.5,183.5 L215.7,186.7 M223.7,180.3 L220.5,183.5 L223.7,186.7 M231.7,180.3 L228.5,183.5 L231.7,186.7 M239.7,180.3 L236.5,183.5 L239.7,186.7 M247.7,180.3 L244.5,183.5 L247.7,186.7 M255.7,180.3 L252.5,183.5 L255.7,186.7 M263.7,180.3 L260.5,183.5 L263.7,186.7 M271.7,180.3 L268.5,183.5 L271.7,186.7 M279.7,180.3 L276.5,183.5 L279.7,186.7 M287.7,180.3 L284.5,183.5 L287.7,186.7 M295.7,180.3 L292.5,183.5 L295.7,186.7 M303.7,180.3 L300.5,183.5 L303.7,186.7 M311.7,180.3 L308.5,183.5 L311.7,186.7 M319.7,180.3 L316.5,183.5 L319.7,186.7 M327.7,180.3 L324.5,183.5 L327.7,186.7 M335.7,180.3 L332.5,183.5 L335.7,186.7 M343.7,180.3 L340.5,183.5 L343.7,186.7 M351.7,180.3 L348.5,183.5 L351.7,186.7 M359.7,180.3 L356.5,183.5 L359.7,186.7 M367.7,180.3 L364.5,183.5 L367.7,186.7 M375.7,180.3 L372.5,183.5 L375.7,186.7 M383.7,180.3 L380.5,183.5 L383.7,186.7 M391.7,180.3 L388.5,183.5 L391.7,186.7 M399.7,180.3 L396.5,183.5 L399.7,186.7 M407.7,180.3 L404.5,183.5 L407.7,186.7 M415.7,180.3 L412.5,183.5 L415.7,186.7 M423.7,180.3 L420.5,183.5 L423.7,186.7 M431.7,180.3 L428.5,183.5 L431.7,186.7 M439.7,180.3 L436.5,183.5 L439.7,186.7 M447.7,180.3 L444.5,183.5 L447.7,186.7 M455.7,180.3 L452.5,183.5 L455.7,186.7 M463.7,180.3 L460.5,183.5 L463.7,186.7 M471.7,180.3 L468.5,183.5 L471.7,186.7 M479.7,180.3 L476.5,183.5 L479.7,186.7 M487.7,180.3 L484.5,183.5 L487.7,186.7 M495.7,180.3 L492.5,183.5 L495.7,186.7 M503.7,180.3 L500.5,183.5 L503.7,186.7 M511.7,180.3 L508.5,183.5 L511.7,186.7 M519.7,180.3 L516.5,183.5 L519.7,186.7 M527.7,180.3 L524.5,183.5 L527.7,186.7 M535.7,180.3 L532.5,183.5 L535.7,186.7 M543.7,180.3 L540.5,183.5 L543.7,186.7 M551.7,180.3 L548.5,183.5 L551.7,186.7 M559.7,180.3 L556.5,183.5 L559.7,186.7 M567.7,180.3 L564.5,183.5 L567.7,186.7 M575.7,180.3 L572.5,183.5 L575.7,186.7 M583.7,180.3 L580.5,183.5 L583.7,186.7 M591.7,180.3 L588.5,183.5 L591.7,186.7 M599.7,180.3 L596.5,183.5 L599.7,186.7 M607.7,180.3 L604.5,183.5 L607.7,186.7 M615.7,180.3 L612.5,183.5 L615.7,186.7 M623.7,180.3 L620.5,183.5 L623.7,186.7 M631.7,180.3 L628.5,183.5 L631.7,186.7 M639.7,180.3 L636.5,183.5 L639.7,186.7 M647.7,180.3 L644.5,183.5 L647.7,186.7 M655.7,180.3 L652.5,183.5 L655.7,186.7 M663.7,180.3 L660.5,183.5 L663.7,186.7 M671.7,180.3 L668.5,183.5 L671.7,186.7 M679.7,180.3 L676.5,183.5 L679.7,186.7 M687.7,180.3 L684.5,183.5 L687.7,186.7 M695.7,180.3 L692.5,183.5 L695.7,186.7 M703.7,180.3 L700.5,183.5 L703.7,186.7 M711.7,180.3 L708.5,183.5 L711.7,186.7 M719.7,180.3 L716.5,183.5 L719.7,186.7 M727.7,180.3 L724.5,183.5 L727.7,186.7 M735.7,180.3 L732.5,183.5 L735.7,186.7 M743.7,180.3 L740.5,183.5 L743.7,186.7 M751.7,180.3 L748.5,183.5 L751.7,186.7 M759.7,180.3 L756.5,183.5 L759.7,186.7 M767.7,180.3 L764.5,183.5 L767.7,186.7 M775.7,180.3 L772.5,183.5 L775.7,186.7 M783.7,180.3 L780.5,183.5 L783.7,186.7 M791.7,180.3 L788.5,183.5 L791.7,186.7 M799.7,180.3 L796.5,183.5 L799.7,186.7 M807.7,180.3 L804.5,183.5 L807.7,186.7 M815.7,180.3 L812.5,183.5 L815.7,186.7 M823.7,180.3 L820.5,183.5 L823.7,186.7 M831.7,180.3 L828.5,183.5 L831.7,186.7 M839.7,180.3 L836.5,183.5 L839.7,186.7 M847.7,180.3 L844.5,183.5 L847.7,186.7 M855.7,180.3 L852.5,183.5 L855.7,186.7 M863.7,180.3 L860.5,183.5 L863.7,186.7 M871.7,180.3 L868.5,183.5 L871.7,186.7 M879.7,180.3 L876.5,183.5 L879.7,186.7 M887.7,180.3 L884.5,183.5 L887.7,186.7 M895.7,180.3 L892.5,183.5 L895.7,186.7 M903.7,180.3 L900.5,183.5 L903.7,186.7 M911.7,180.3 L908.5,183.5 L911.7,186.7 M919.7,180.3 L916.5,183.5 L919.7,186.7 M927.7,180.3 L924.5,183.5 L927.7,186.7 M935.7,180.3 L932.5,183.5 L935.7,186.7 M943.7,180.3 L940.5,183.5 L943.7,186.7 " stroke="#0c0c78" stroke-width="1.1" fill="none" shape-rendering="auto"/><rect x="157" y="214" width="792" height="1" fill="#0c0c78"/><rect x="156" y="285" width="793" height="15" fill="#bebebe"/><rect x="156" y="348" width="378" height="53" fill="#f0f0f0"/><rect x="157" y="349" width="376" height="52" fill="#ffffff"/><rect x="156" y="352" width="5" height="48" fill="#FFA54F"/><rect x="163" y="354" width="5" height="46" fill="#EE9A00"/><rect x="170" y="358" width="5" height="42" fill="#8FBC8F"/><rect x="177" y="352" width="5" height="48" fill="#8B1C62"/><rect x="184" y="353" width="5" height="47" fill="#EE6A50"/><rect x="191" y="351" width="5" height="49" fill="#FF0000"/><rect x="198" y="350" width="5" height="50" fill="#CDB79E"/><rect x="205" y="361" width="5" height="39" fill="#EEEE00"/><rect x="212" y="358" width="5" height="42" fill="#EEEE00"/><rect x="219" y="357" width="5" height="43" fill="#EEEE00"/><rect x="226" y="354" width="5" height="46" fill="#EEEE00"/><rect x="233" y="354" width="5" height="46" fill="#EEEE00"/><rect x="240" y="356" width="5" height="44" fill="#EEEE00"/><rect x="247" y="356" width="5" height="44" fill="#EEEE00"/><rect x="254" y="363" width="5" height="37" fill="#EEEE00"/><rect x="261" y="358" width="5" height="42" fill="#EEEE00"/><rect x="268" y="356" width="5" height="44" fill="#EEEE00"/><rect x="275" y="360" width="5" height="40" fill="#EEEE00"/><rect x="282" y="360" width="5" height="40" fill="#EEEE00"/><rect x="289" y="360" width="5" height="40" fill="#EEEE00"/><rect x="296" y="353" width="5" height="47" fill="#00CDCD"/><rect x="303" y="352" width="5" height="48" fill="#EE82EE"/><rect x="310" y="350" width="5" height="50" fill="#9AC0CD"/><rect x="317" y="350" width="5" height="50" fill="#EED5D2"/><rect x="324" y="349" width="5" height="51" fill="#EED5D2"/><rect x="331" y="351" width="5" height="49" fill="#CDB79E"/><rect x="338" y="353" width="5" height="47" fill="#EEC591"/><rect x="345" y="351" width="5" height="49" fill="#8B7355"/><rect x="352" y="352" width="5" height="48" fill="#8B7355"/><rect x="359" y="351" width="5" height="49" fill="#CDAA7D"/><rect x="366" y="351" width="5" height="49" fill="#EED5D2"/><rect x="373" y="355" width="5" height="45" fill="#B452CD"/><rect x="380" y="356" width="5" height="44" fill="#7A378B"/><rect x="387" y="353" width="5" height="47" fill="#CDB79E"/><rect x="394" y="351" width="5" height="49" fill="#CDB79E"/><rect x="401" y="363" width="5" height="37" fill="#CDB79E"/><rect x="408" y="353" width="5" height="47" fill="#9ACD32"/><rect x="415" y="355" width="5" height="45" fill="#CDB79E"/><rect x="422" y="350" width="5" height="50" fill="#7A67EE"/><rect x="429" y="352" width="5" height="48" fill="#FFD700"/><rect x="436" y="350" width="5" height="50" fill="#FFB6C1"/><rect x="443" y="363" width="5" height="37" fill="#CD9B1D"/><rect x="450" y="352" width="5" height="48" fill="#B4EEB4"/><rect x="457" y="351" width="5" height="49" fill="#D9D9D9"/><rect x="464" y="352" width="5" height="48" fill="#3A5FCD"/><rect x="471" y="351" width="5" height="49" fill="#1E90FF"/><rect x="478" y="356" width="5" height="44" fill="#CDB79E"/><rect x="485" y="358" width="5" height="42" fill="#CDB79E"/><rect x="492" y="355" width="5" height="45" fill="#FFD39B"/><rect x="499" y="348" width="5" height="52" fill="#A6A6A6"/><rect x="506" y="352" width="5" height="48" fill="#008B45"/><rect x="513" y="349" width="5" height="51" fill="#EED5D2"/><rect x="520" y="351" width="5" height="49" fill="#EED5D2"/><rect x="527" y="370" width="5" height="30" fill="#FF00FF"/><rect x="156" y="401" width="793" height="2" fill="#000080"/><rect x="156" y="449" width="485" height="1" fill="#3c9c64"/><rect x="641" y="449" width="308" height="1" fill="#6a5a8a"/><path d="M159.8,491 L163.5,491" stroke="#0000ff" stroke-width="1.7" stroke-linecap="round" opacity="0.7" fill="none" shape-rendering="auto"/><path d="M164,491 L190,491.2" stroke="#0000ff" stroke-width="1.4" opacity="0.36" fill="none" shape-rendering="auto"/><path d="M189,491.2 L195,491.6" stroke="#0000ff" stroke-width="1.2" opacity="1.0" fill="none" shape-rendering="auto"/><path d="M202.5,491.5 L210,491.5 L212,490.6 L228,490.6 L230,491.5 L236,491.5" stroke="#ff0000" stroke-width="1" fill="none" opacity="0.75" shape-rendering="auto"/><path d="M247.8,491 L251.5,491" stroke="#0000ff" stroke-width="1.7" stroke-linecap="round" opacity="0.7" fill="none" shape-rendering="auto"/><path d="M252,491 L278,491.2" stroke="#0000ff" stroke-width="1.4" opacity="0.36" fill="none" shape-rendering="auto"/><path d="M277,491.2 L283,491.6" stroke="#0000ff" stroke-width="1.2" opacity="1.0" fill="none" shape-rendering="auto"/><path d="M291.8,491 L295.5,491" stroke="#0000ff" stroke-width="1.7" stroke-linecap="round" opacity="0.7" fill="none" shape-rendering="auto"/><path d="M296,491 L322,491.2" stroke="#0000ff" stroke-width="1.4" opacity="0.36" fill="none" shape-rendering="auto"/><path d="M321,491.2 L327,491.6" stroke="#0000ff" stroke-width="1.2" opacity="1.0" fill="none" shape-rendering="auto"/><path d="M336.8,490.9 L341,490.9" stroke="#a8a800" stroke-width="1.9" stroke-linecap="round" opacity="0.8" fill="none" shape-rendering="auto"/><path d="M342,490.9 L363,490.9" stroke="#a8a800" stroke-width="1.7" opacity="0.25" fill="none" shape-rendering="auto"/><path d="M362,490.0 L365,490.29999999999995 L369.6,491.29999999999995 L365,491.79999999999995 L362,491.79999999999995 Z" fill="#a8a800" opacity="0.8" shape-rendering="auto"/><path d="M380.8,490.9 L385,490.9" stroke="#a8a800" stroke-width="1.9" stroke-linecap="round" opacity="0.8" fill="none" shape-rendering="auto"/><path d="M386,490.9 L407,490.9" stroke="#a8a800" stroke-width="1.7" opacity="0.25" fill="none" shape-rendering="auto"/><path d="M406,490.0 L409,490.29999999999995 L413.6,491.29999999999995 L409,491.79999999999995 L406,491.79999999999995 Z" fill="#a8a800" opacity="0.8" shape-rendering="auto"/><path d="M422,490.5 L454,490.5" stroke="#00dd00" stroke-width="0.8" opacity="0.3" fill="none" shape-rendering="auto"/><rect x="435" y="489.8" width="5.5" height="2.2" rx="0.8" fill="#00dd00" shape-rendering="auto"/><path d="M468.8,490.9 L473,490.9" stroke="#a8a800" stroke-width="1.9" stroke-linecap="round" opacity="0.8" fill="none" shape-rendering="auto"/><path d="M474,490.9 L495,490.9" stroke="#a8a800" stroke-width="1.7" opacity="0.25" fill="none" shape-rendering="auto"/><path d="M494,490.0 L497,490.29999999999995 L501.6,491.29999999999995 L497,491.79999999999995 L494,491.79999999999995 Z" fill="#a8a800" opacity="0.8" shape-rendering="auto"/><path d="M512.8,490.9 L517,490.9" stroke="#a8a800" stroke-width="1.9" stroke-linecap="round" opacity="0.8" fill="none" shape-rendering="auto"/><path d="M518,490.9 L539,490.9" stroke="#a8a800" stroke-width="1.7" opacity="0.25" fill="none" shape-rendering="auto"/><path d="M538,490.0 L541,490.29999999999995 L545.6,491.29999999999995 L541,491.79999999999995 L538,491.79999999999995 Z" fill="#a8a800" opacity="0.8" shape-rendering="auto"/><path d="M554,494.40000000000003 L586,494.40000000000003" stroke="#00dd00" stroke-width="0.8" opacity="0.2" fill="none" shape-rendering="auto"/><path d="M556.8,493.1 L561,493.1" stroke="#a8a800" stroke-width="1.9" stroke-linecap="round" opacity="0.8" fill="none" shape-rendering="auto"/><path d="M562,493.1 L583,493.1" stroke="#a8a800" stroke-width="1.7" opacity="0.25" fill="none" shape-rendering="auto"/><path d="M582,492.20000000000005 L585,492.5 L589.6,493.5 L585,494.0 L582,494.0 Z" fill="#a8a800" opacity="0.8" shape-rendering="auto"/><rect x="567" y="493.5" width="6" height="2" rx="0.8" fill="#00e000" shape-rendering="auto"/><path d="M598.5,491.5 L606,491.5 L608,490.6 L624,490.6 L626,491.5 L632,491.5" stroke="#ff0000" stroke-width="1" fill="none" opacity="0.75" shape-rendering="auto"/><path d="M643.8,491 L647.5,491" stroke="#0000ff" stroke-width="1.7" stroke-linecap="round" opacity="0.7" fill="none" shape-rendering="auto"/><path d="M648,491 L674,491.2" stroke="#0000ff" stroke-width="1.4" opacity="0.36" fill="none" shape-rendering="auto"/><path d="M673,491.2 L679,491.6" stroke="#0000ff" stroke-width="1.2" opacity="1.0" fill="none" shape-rendering="auto"/><path d="M686,490.5 L718,490.5" stroke="#00dd00" stroke-width="0.8" opacity="0.3" fill="none" shape-rendering="auto"/><rect x="699" y="489.8" width="5.5" height="2.2" rx="0.8" fill="#00dd00" shape-rendering="auto"/><path d="M731.8,491 L735.5,491" stroke="#0000ff" stroke-width="1.7" stroke-linecap="round" opacity="0.7" fill="none" shape-rendering="auto"/><path d="M736,491 L762,491.2" stroke="#0000ff" stroke-width="1.4" opacity="0.36" fill="none" shape-rendering="auto"/><path d="M761,491.2 L767,491.6" stroke="#0000ff" stroke-width="1.2" opacity="1.0" fill="none" shape-rendering="auto"/><path d="M774.5,491.5 L782,491.5 L784,490.6 L800,490.6 L802,491.5 L808,491.5" stroke="#ff0000" stroke-width="1" fill="none" opacity="0.75" shape-rendering="auto"/><path d="M818.5,491.5 L826,491.5 L828,490.6 L844,490.6 L846,491.5 L852,491.5" stroke="#ff0000" stroke-width="1" fill="none" opacity="0.75" shape-rendering="auto"/><path d="M864.8,490.9 L869,490.9" stroke="#a8a800" stroke-width="1.9" stroke-linecap="round" opacity="0.8" fill="none" shape-rendering="auto"/><path d="M870,490.9 L891,490.9" stroke="#a8a800" stroke-width="1.7" opacity="0.25" fill="none" shape-rendering="auto"/><path d="M890,490.0 L893,490.29999999999995 L897.6,491.29999999999995 L893,491.79999999999995 L890,491.79999999999995 Z" fill="#a8a800" opacity="0.8" shape-rendering="auto"/><path d="M908.8,490.9 L913,490.9" stroke="#a8a800" stroke-width="1.9" stroke-linecap="round" opacity="0.8" fill="none" shape-rendering="auto"/><path d="M914,490.9 L935,490.9" stroke="#a8a800" stroke-width="1.7" opacity="0.25" fill="none" shape-rendering="auto"/><path d="M934,490.0 L937,490.29999999999995 L941.6,491.29999999999995 L937,491.79999999999995 L934,491.79999999999995 Z" fill="#a8a800" opacity="0.8" shape-rendering="auto"/><text transform="translate(176.00 558.6) scale(1.0000 1.06)" font-size="13" fill="#0c0c78" text-anchor="middle" xml:space="preserve">G</text><text transform="translate(220.00 558.6) scale(1.0000 1.06)" font-size="13" fill="#0c0c78" text-anchor="middle" xml:space="preserve">A</text><text transform="translate(264.00 558.6) scale(1.0000 1.06)" font-size="13" fill="#0c0c78" text-anchor="middle" xml:space="preserve">G</text><text transform="translate(308.00 558.6) scale(1.0000 1.06)" font-size="13" fill="#0c0c78" text-anchor="middle" xml:space="preserve">G</text><text transform="translate(352.00 558.6) scale(1.0000 1.06)" font-size="13" fill="#0c0c78" text-anchor="middle" xml:space="preserve">C</text><text transform="translate(396.00 558.6) scale(1.0000 1.06)" font-size="13" fill="#0c0c78" text-anchor="middle" xml:space="preserve">C</text><text transform="translate(440.00 558.6) scale(1.0000 1.06)" font-size="13" fill="#0c0c78" text-anchor="middle" xml:space="preserve">T</text><text transform="translate(484.00 558.6) scale(1.0000 1.06)" font-size="13" fill="#0c0c78" text-anchor="middle" xml:space="preserve">C</text><text transform="translate(528.00 558.6) scale(1.0000 1.06)" font-size="13" fill="#0c0c78" text-anchor="middle" xml:space="preserve">C</text><text transform="translate(572.00 558.6) scale(1.0000 1.06)" font-size="13" fill="#0c0c78" text-anchor="middle" xml:space="preserve">C</text><text transform="translate(616.00 558.6) scale(1.0000 1.06)" font-size="13" fill="#0c0c78" text-anchor="middle" xml:space="preserve">A</text><text transform="translate(660.00 558.6) scale(1.0000 1.06)" font-size="13" fill="#0c0c78" text-anchor="middle" xml:space="preserve">G</text><text transform="translate(704.00 558.6) scale(1.0000 1.06)" font-size="13" fill="#0c0c78" text-anchor="middle" xml:space="preserve">T</text><text transform="translate(748.00 558.6) scale(1.0000 1.06)" font-size="13" fill="#0c0c78" text-anchor="middle" xml:space="preserve">G</text><text transform="translate(792.00 558.6) scale(1.0000 1.06)" font-size="13" fill="#0c0c78" text-anchor="middle" xml:space="preserve">A</text><text transform="translate(836.00 558.6) scale(1.0000 1.06)" font-size="13" fill="#0c0c78" text-anchor="middle" xml:space="preserve">A</text><text transform="translate(880.00 558.6) scale(1.0000 1.06)" font-size="13" fill="#0c0c78" text-anchor="middle" xml:space="preserve">C</text><text transform="translate(924.00 558.6) scale(1.0000 1.06)" font-size="13" fill="#0c0c78" text-anchor="middle" xml:space="preserve">C</text><rect x="174.3" y="570" width="3.6" height="1" fill="#7070a8" shape-rendering="auto"/><rect x="218.3" y="570" width="3.6" height="1" fill="#7070a8" shape-rendering="auto"/><rect x="262.3" y="570" width="3.6" height="1" fill="#7070a8" shape-rendering="auto"/><rect x="306.3" y="570" width="3.6" height="1" fill="#7070a8" shape-rendering="auto"/><rect x="350.3" y="570" width="3.6" height="1" fill="#7070a8" shape-rendering="auto"/><rect x="394.3" y="570" width="3.6" height="1" fill="#7070a8" shape-rendering="auto"/><rect x="438.3" y="570" width="3.6" height="1" fill="#7070a8" shape-rendering="auto"/><rect x="482.3" y="570" width="3.6" height="1" fill="#7070a8" shape-rendering="auto"/><rect x="526.3" y="570" width="3.6" height="1" fill="#7070a8" shape-rendering="auto"/><rect x="570.3" y="570" width="3.6" height="1" fill="#7070a8" shape-rendering="auto"/><rect x="614.3" y="570" width="3.6" height="1" fill="#7070a8" shape-rendering="auto"/><rect x="658.3" y="570" width="3.6" height="1" fill="#7070a8" shape-rendering="auto"/><rect x="702.3" y="570" width="3.6" height="1" fill="#7070a8" shape-rendering="auto"/><rect x="746.3" y="570" width="3.6" height="1" fill="#7070a8" shape-rendering="auto"/><rect x="790.3" y="570" width="3.6" height="1" fill="#7070a8" shape-rendering="auto"/><rect x="834.3" y="570" width="3.6" height="1" fill="#7070a8" shape-rendering="auto"/><rect x="878.3" y="570" width="3.6" height="1" fill="#7070a8" shape-rendering="auto"/><rect x="922.3" y="570" width="3.6" height="1" fill="#7070a8" shape-rendering="auto"/><rect x="172.5" y="584" width="6.5" height="1" fill="#7070a8" shape-rendering="auto"/><rect x="172.5" y="587" width="6.5" height="1" fill="#7070a8" shape-rendering="auto"/><rect x="216.5" y="584" width="6.5" height="1" fill="#7070a8" shape-rendering="auto"/><rect x="216.5" y="587" width="6.5" height="1" fill="#7070a8" shape-rendering="auto"/><rect x="260.5" y="584" width="6.5" height="1" fill="#7070a8" shape-rendering="auto"/><rect x="260.5" y="587" width="6.5" height="1" fill="#7070a8" shape-rendering="auto"/><rect x="304.5" y="584" width="6.5" height="1" fill="#7070a8" shape-rendering="auto"/><rect x="304.5" y="587" width="6.5" height="1" fill="#7070a8" shape-rendering="auto"/><rect x="348.5" y="584" width="6.5" height="1" fill="#7070a8" shape-rendering="auto"/><rect x="348.5" y="587" width="6.5" height="1" fill="#7070a8" shape-rendering="auto"/><rect x="392.5" y="584" width="6.5" height="1" fill="#7070a8" shape-rendering="auto"/><rect x="392.5" y="587" width="6.5" height="1" fill="#7070a8" shape-rendering="auto"/><rect x="436.5" y="584" width="6.5" height="1" fill="#7070a8" shape-rendering="auto"/><rect x="436.5" y="587" width="6.5" height="1" fill="#7070a8" shape-rendering="auto"/><rect x="480.5" y="584" width="6.5" height="1" fill="#7070a8" shape-rendering="auto"/><rect x="480.5" y="587" width="6.5" height="1" fill="#7070a8" shape-rendering="auto"/><rect x="524.5" y="584" width="6.5" height="1" fill="#7070a8" shape-rendering="auto"/><rect x="524.5" y="587" width="6.5" height="1" fill="#7070a8" shape-rendering="auto"/><rect x="568.5" y="584" width="6.5" height="1" fill="#7070a8" shape-rendering="auto"/><rect x="568.5" y="587" width="6.5" height="1" fill="#7070a8" shape-rendering="auto"/><rect x="612.5" y="584" width="6.5" height="1" fill="#7070a8" shape-rendering="auto"/><rect x="612.5" y="587" width="6.5" height="1" fill="#7070a8" shape-rendering="auto"/><rect x="656.5" y="584" width="6.5" height="1" fill="#7070a8" shape-rendering="auto"/><rect x="656.5" y="587" width="6.5" height="1" fill="#7070a8" shape-rendering="auto"/><rect x="700.5" y="584" width="6.5" height="1" fill="#7070a8" shape-rendering="auto"/><rect x="700.5" y="587" width="6.5" height="1" fill="#7070a8" shape-rendering="auto"/><rect x="744.5" y="584" width="6.5" height="1" fill="#7070a8" shape-rendering="auto"/><rect x="744.5" y="587" width="6.5" height="1" fill="#7070a8" shape-rendering="auto"/><rect x="788.5" y="584" width="6.5" height="1" fill="#7070a8" shape-rendering="auto"/><rect x="788.5" y="587" width="6.5" height="1" fill="#7070a8" shape-rendering="auto"/><rect x="832.5" y="584" width="6.5" height="1" fill="#7070a8" shape-rendering="auto"/><rect x="832.5" y="587" width="6.5" height="1" fill="#7070a8" shape-rendering="auto"/><rect x="876.5" y="584" width="6.5" height="1" fill="#7070a8" shape-rendering="auto"/><rect x="876.5" y="587" width="6.5" height="1" fill="#7070a8" shape-rendering="auto"/><rect x="920.5" y="584" width="6.5" height="1" fill="#7070a8" shape-rendering="auto"/><rect x="920.5" y="587" width="6.5" height="1" fill="#7070a8" shape-rendering="auto"/><rect x="172.5" y="599" width="6.5" height="1" fill="#7070a8" shape-rendering="auto"/><rect x="172.5" y="602" width="6.5" height="1" fill="#7070a8" shape-rendering="auto"/><rect x="216.5" y="599" width="6.5" height="1" fill="#7070a8" shape-rendering="auto"/><rect x="216.5" y="602" width="6.5" height="1" fill="#7070a8" shape-rendering="auto"/><rect x="260.5" y="599" width="6.5" height="1" fill="#7070a8" shape-rendering="auto"/><rect x="260.5" y="602" width="6.5" height="1" fill="#7070a8" shape-rendering="auto"/><rect x="304.5" y="599" width="6.5" height="1" fill="#7070a8" shape-rendering="auto"/><rect x="304.5" y="602" width="6.5" height="1" fill="#7070a8" shape-rendering="auto"/><rect x="348.5" y="599" width="6.5" height="1" fill="#7070a8" shape-rendering="auto"/><rect x="348.5" y="602" width="6.5" height="1" fill="#7070a8" shape-rendering="auto"/><rect x="392.5" y="599" width="6.5" height="1" fill="#7070a8" shape-rendering="auto"/><rect x="392.5" y="602" width="6.5" height="1" fill="#7070a8" shape-rendering="auto"/><rect x="436.5" y="599" width="6.5" height="1" fill="#7070a8" shape-rendering="auto"/><rect x="436.5" y="602" width="6.5" height="1" fill="#7070a8" shape-rendering="auto"/><rect x="480.5" y="599" width="6.5" height="1" fill="#7070a8" shape-rendering="auto"/><rect x="480.5" y="602" width="6.5" height="1" fill="#7070a8" shape-rendering="auto"/><rect x="524.5" y="599" width="6.5" height="1" fill="#7070a8" shape-rendering="auto"/><rect x="524.5" y="602" width="6.5" height="1" fill="#7070a8" shape-rendering="auto"/><rect x="568.5" y="599" width="6.5" height="1" fill="#7070a8" shape-rendering="auto"/><rect x="568.5" y="602" width="6.5" height="1" fill="#7070a8" shape-rendering="auto"/><rect x="612.5" y="599" width="6.5" height="1" fill="#7070a8" shape-rendering="auto"/><rect x="612.5" y="602" width="6.5" height="1" fill="#7070a8" shape-rendering="auto"/><rect x="656.5" y="599" width="6.5" height="1" fill="#7070a8" shape-rendering="auto"/><rect x="656.5" y="602" width="6.5" height="1" fill="#7070a8" shape-rendering="auto"/><rect x="700.5" y="599" width="6.5" height="1" fill="#7070a8" shape-rendering="auto"/><rect x="700.5" y="602" width="6.5" height="1" fill="#7070a8" shape-rendering="auto"/><rect x="744.5" y="599" width="6.5" height="1" fill="#7070a8" shape-rendering="auto"/><rect x="744.5" y="602" width="6.5" height="1" fill="#7070a8" shape-rendering="auto"/><rect x="788.5" y="599" width="6.5" height="1" fill="#7070a8" shape-rendering="auto"/><rect x="788.5" y="602" width="6.5" height="1" fill="#7070a8" shape-rendering="auto"/><rect x="832.5" y="599" width="6.5" height="1" fill="#7070a8" shape-rendering="auto"/><rect x="832.5" y="602" width="6.5" height="1" fill="#7070a8" shape-rendering="auto"/><rect x="876.5" y="599" width="6.5" height="1" fill="#7070a8" shape-rendering="auto"/><rect x="876.5" y="602" width="6.5" height="1" fill="#7070a8" shape-rendering="auto"/><rect x="920.5" y="599" width="6.5" height="1" fill="#7070a8" shape-rendering="auto"/><rect x="920.5" y="602" width="6.5" height="1" fill="#7070a8" shape-rendering="auto"/><rect x="172.5" y="614" width="6.5" height="1" fill="#7070a8" shape-rendering="auto"/><rect x="172.5" y="617" width="6.5" height="1" fill="#7070a8" shape-rendering="auto"/><rect x="216.5" y="614" width="6.5" height="1" fill="#7070a8" shape-rendering="auto"/><rect x="216.5" y="617" width="6.5" height="1" fill="#7070a8" shape-rendering="auto"/><rect x="260.5" y="614" width="6.5" height="1" fill="#7070a8" shape-rendering="auto"/><rect x="260.5" y="617" width="6.5" height="1" fill="#7070a8" shape-rendering="auto"/><rect x="304.5" y="614" width="6.5" height="1" fill="#7070a8" shape-rendering="auto"/><rect x="304.5" y="617" width="6.5" height="1" fill="#7070a8" shape-rendering="auto"/><rect x="348.5" y="614" width="6.5" height="1" fill="#7070a8" shape-rendering="auto"/><rect x="348.5" y="617" width="6.5" height="1" fill="#7070a8" shape-rendering="auto"/><rect x="392.5" y="614" width="6.5" height="1" fill="#7070a8" shape-rendering="auto"/><rect x="392.5" y="617" width="6.5" height="1" fill="#7070a8" shape-rendering="auto"/><rect x="436.5" y="614" width="6.5" height="1" fill="#7070a8" shape-rendering="auto"/><rect x="436.5" y="617" width="6.5" height="1" fill="#7070a8" shape-rendering="auto"/><rect x="480.5" y="614" width="6.5" height="1" fill="#7070a8" shape-rendering="auto"/><rect x="480.5" y="617" width="6.5" height="1" fill="#7070a8" shape-rendering="auto"/><rect x="524.5" y="614" width="6.5" height="1" fill="#7070a8" shape-rendering="auto"/><rect x="524.5" y="617" width="6.5" height="1" fill="#7070a8" shape-rendering="auto"/><rect x="568.5" y="614" width="6.5" height="1" fill="#7070a8" shape-rendering="auto"/><rect x="568.5" y="617" width="6.5" height="1" fill="#7070a8" shape-rendering="auto"/><rect x="612.5" y="614" width="6.5" height="1" fill="#7070a8" shape-rendering="auto"/><rect x="612.5" y="617" width="6.5" height="1" fill="#7070a8" shape-rendering="auto"/><rect x="656.5" y="614" width="6.5" height="1" fill="#7070a8" shape-rendering="auto"/><rect x="656.5" y="617" width="6.5" height="1" fill="#7070a8" shape-rendering="auto"/><rect x="700.5" y="614" width="6.5" height="1" fill="#7070a8" shape-rendering="auto"/><rect x="700.5" y="617" width="6.5" height="1" fill="#7070a8" shape-rendering="auto"/><rect x="744.5" y="614" width="6.5" height="1" fill="#7070a8" shape-rendering="auto"/><rect x="744.5" y="617" width="6.5" height="1" fill="#7070a8" shape-rendering="auto"/><rect x="788.5" y="614" width="6.5" height="1" fill="#7070a8" shape-rendering="auto"/><rect x="788.5" y="617" width="6.5" height="1" fill="#7070a8" shape-rendering="auto"/><rect x="832.5" y="614" width="6.5" height="1" fill="#7070a8" shape-rendering="auto"/><rect x="832.5" y="617" width="6.5" height="1" fill="#7070a8" shape-rendering="auto"/><rect x="876.5" y="614" width="6.5" height="1" fill="#7070a8" shape-rendering="auto"/><rect x="876.5" y="617" width="6.5" height="1" fill="#7070a8" shape-rendering="auto"/><rect x="920.5" y="614" width="6.5" height="1" fill="#7070a8" shape-rendering="auto"/><rect x="920.5" y="617" width="6.5" height="1" fill="#7070a8" shape-rendering="auto"/><rect x="172.5" y="629" width="6.5" height="1" fill="#7070a8" shape-rendering="auto"/><rect x="172.5" y="632" width="6.5" height="1" fill="#7070a8" shape-rendering="auto"/><rect x="216.5" y="629" width="6.5" height="1" fill="#7070a8" shape-rendering="auto"/><rect x="216.5" y="632" width="6.5" height="1" fill="#7070a8" shape-rendering="auto"/><rect x="260.5" y="629" width="6.5" height="1" fill="#7070a8" shape-rendering="auto"/><rect x="260.5" y="632" width="6.5" height="1" fill="#7070a8" shape-rendering="auto"/><rect x="304.5" y="629" width="6.5" height="1" fill="#7070a8" shape-rendering="auto"/><rect x="304.5" y="632" width="6.5" height="1" fill="#7070a8" shape-rendering="auto"/><rect x="348.5" y="629" width="6.5" height="1" fill="#7070a8" shape-rendering="auto"/><rect x="348.5" y="632" width="6.5" height="1" fill="#7070a8" shape-rendering="auto"/><rect x="392.5" y="629" width="6.5" height="1" fill="#7070a8" shape-rendering="auto"/><rect x="392.5" y="632" width="6.5" height="1" fill="#7070a8" shape-rendering="auto"/><rect x="436.5" y="629" width="6.5" height="1" fill="#7070a8" shape-rendering="auto"/><rect x="436.5" y="632" width="6.5" height="1" fill="#7070a8" shape-rendering="auto"/><rect x="480.5" y="629" width="6.5" height="1" fill="#7070a8" shape-rendering="auto"/><rect x="480.5" y="632" width="6.5" height="1" fill="#7070a8" shape-rendering="auto"/><rect x="524.5" y="629" width="6.5" height="1" fill="#7070a8" shape-rendering="auto"/><rect x="524.5" y="632" width="6.5" height="1" fill="#7070a8" shape-rendering="auto"/><rect x="568.5" y="629" width="6.5" height="1" fill="#7070a8" shape-rendering="auto"/><rect x="568.5" y="632" width="6.5" height="1" fill="#7070a8" shape-rendering="auto"/><rect x="612.5" y="629" width="6.5" height="1" fill="#7070a8" shape-rendering="auto"/><rect x="612.5" y="632" width="6.5" height="1" fill="#7070a8" shape-rendering="auto"/><rect x="656.5" y="629" width="6.5" height="1" fill="#7070a8" shape-rendering="auto"/><rect x="656.5" y="632" width="6.5" height="1" fill="#7070a8" shape-rendering="auto"/><rect x="700.5" y="629" width="6.5" height="1" fill="#7070a8" shape-rendering="auto"/><rect x="700.5" y="632" width="6.5" height="1" fill="#7070a8" shape-rendering="auto"/><rect x="744.5" y="629" width="6.5" height="1" fill="#7070a8" shape-rendering="auto"/><rect x="744.5" y="632" width="6.5" height="1" fill="#7070a8" shape-rendering="auto"/><rect x="788.5" y="629" width="6.5" height="1" fill="#7070a8" shape-rendering="auto"/><rect x="788.5" y="632" width="6.5" height="1" fill="#7070a8" shape-rendering="auto"/><rect x="832.5" y="629" width="6.5" height="1" fill="#7070a8" shape-rendering="auto"/><rect x="832.5" y="632" width="6.5" height="1" fill="#7070a8" shape-rendering="auto"/><rect x="876.5" y="629" width="6.5" height="1" fill="#7070a8" shape-rendering="auto"/><rect x="876.5" y="632" width="6.5" height="1" fill="#7070a8" shape-rendering="auto"/><rect x="920.5" y="629" width="6.5" height="1" fill="#7070a8" shape-rendering="auto"/><rect x="920.5" y="632" width="6.5" height="1" fill="#7070a8" shape-rendering="auto"/><rect x="172.5" y="644" width="6.5" height="1" fill="#7070a8" shape-rendering="auto"/><rect x="172.5" y="647" width="6.5" height="1" fill="#7070a8" shape-rendering="auto"/><rect x="216.5" y="644" width="6.5" height="1" fill="#7070a8" shape-rendering="auto"/><rect x="216.5" y="647" width="6.5" height="1" fill="#7070a8" shape-rendering="auto"/><rect x="260.5" y="644" width="6.5" height="1" fill="#7070a8" shape-rendering="auto"/><rect x="260.5" y="647" width="6.5" height="1" fill="#7070a8" shape-rendering="auto"/><rect x="304.5" y="644" width="6.5" height="1" fill="#7070a8" shape-rendering="auto"/><rect x="304.5" y="647" width="6.5" height="1" fill="#7070a8" shape-rendering="auto"/><rect x="348.5" y="644" width="6.5" height="1" fill="#7070a8" shape-rendering="auto"/><rect x="348.5" y="647" width="6.5" height="1" fill="#7070a8" shape-rendering="auto"/><rect x="392.5" y="644" width="6.5" height="1" fill="#7070a8" shape-rendering="auto"/><rect x="392.5" y="647" width="6.5" height="1" fill="#7070a8" shape-rendering="auto"/><rect x="436.5" y="644" width="6.5" height="1" fill="#7070a8" shape-rendering="auto"/><rect x="436.5" y="647" width="6.5" height="1" fill="#7070a8" shape-rendering="auto"/><rect x="480.5" y="644" width="6.5" height="1" fill="#7070a8" shape-rendering="auto"/><rect x="480.5" y="647" width="6.5" height="1" fill="#7070a8" shape-rendering="auto"/><rect x="524.5" y="644" width="6.5" height="1" fill="#7070a8" shape-rendering="auto"/><rect x="524.5" y="647" width="6.5" height="1" fill="#7070a8" shape-rendering="auto"/><rect x="568.5" y="644" width="6.5" height="1" fill="#7070a8" shape-rendering="auto"/><rect x="568.5" y="647" width="6.5" height="1" fill="#7070a8" shape-rendering="auto"/><rect x="612.5" y="644" width="6.5" height="1" fill="#7070a8" shape-rendering="auto"/><rect x="612.5" y="647" width="6.5" height="1" fill="#7070a8" shape-rendering="auto"/><rect x="656.5" y="644" width="6.5" height="1" fill="#7070a8" shape-rendering="auto"/><rect x="656.5" y="647" width="6.5" height="1" fill="#7070a8" shape-rendering="auto"/><rect x="700.5" y="644" width="6.5" height="1" fill="#7070a8" shape-rendering="auto"/><rect x="700.5" y="647" width="6.5" height="1" fill="#7070a8" shape-rendering="auto"/><rect x="744.5" y="644" width="6.5" height="1" fill="#7070a8" shape-rendering="auto"/><rect x="744.5" y="647" width="6.5" height="1" fill="#7070a8" shape-rendering="auto"/><rect x="788.5" y="644" width="6.5" height="1" fill="#7070a8" shape-rendering="auto"/><rect x="788.5" y="647" width="6.5" height="1" fill="#7070a8" shape-rendering="auto"/><rect x="832.5" y="644" width="6.5" height="1" fill="#7070a8" shape-rendering="auto"/><rect x="832.5" y="647" width="6.5" height="1" fill="#7070a8" shape-rendering="auto"/><rect x="876.5" y="644" width="6.5" height="1" fill="#7070a8" shape-rendering="auto"/><rect x="876.5" y="647" width="6.5" height="1" fill="#7070a8" shape-rendering="auto"/><rect x="920.5" y="644" width="6.5" height="1" fill="#7070a8" shape-rendering="auto"/><rect x="920.5" y="647" width="6.5" height="1" fill="#7070a8" shape-rendering="auto"/><rect x="172.5" y="659" width="6.5" height="1" fill="#7070a8" shape-rendering="auto"/><rect x="172.5" y="662" width="6.5" height="1" fill="#7070a8" shape-rendering="auto"/><rect x="216.5" y="659" width="6.5" height="1" fill="#7070a8" shape-rendering="auto"/><rect x="216.5" y="662" width="6.5" height="1" fill="#7070a8" shape-rendering="auto"/><rect x="260.5" y="659" width="6.5" height="1" fill="#7070a8" shape-rendering="auto"/><rect x="260.5" y="662" width="6.5" height="1" fill="#7070a8" shape-rendering="auto"/><rect x="304.5" y="659" width="6.5" height="1" fill="#7070a8" shape-rendering="auto"/><rect x="304.5" y="662" width="6.5" height="1" fill="#7070a8" shape-rendering="auto"/><rect x="348.5" y="659" width="6.5" height="1" fill="#7070a8" shape-rendering="auto"/><rect x="348.5" y="662" width="6.5" height="1" fill="#7070a8" shape-rendering="auto"/><rect x="392.5" y="659" width="6.5" height="1" fill="#7070a8" shape-rendering="auto"/><rect x="392.5" y="662" width="6.5" height="1" fill="#7070a8" shape-rendering="auto"/><rect x="436.5" y="659" width="6.5" height="1" fill="#7070a8" shape-rendering="auto"/><rect x="436.5" y="662" width="6.5" height="1" fill="#7070a8" shape-rendering="auto"/><rect x="480.5" y="659" width="6.5" height="1" fill="#7070a8" shape-rendering="auto"/><rect x="480.5" y="662" width="6.5" height="1" fill="#7070a8" shape-rendering="auto"/><rect x="524.5" y="659" width="6.5" height="1" fill="#7070a8" shape-rendering="auto"/><rect x="524.5" y="662" width="6.5" height="1" fill="#7070a8" shape-rendering="auto"/><rect x="568.5" y="659" width="6.5" height="1" fill="#7070a8" shape-rendering="auto"/><rect x="568.5" y="662" width="6.5" height="1" fill="#7070a8" shape-rendering="auto"/><rect x="612.5" y="659" width="6.5" height="1" fill="#7070a8" shape-rendering="auto"/><rect x="612.5" y="662" width="6.5" height="1" fill="#7070a8" shape-rendering="auto"/><rect x="656.5" y="659" width="6.5" height="1" fill="#7070a8" shape-rendering="auto"/><rect x="656.5" y="662" width="6.5" height="1" fill="#7070a8" shape-rendering="auto"/><rect x="700.5" y="659" width="6.5" height="1" fill="#7070a8" shape-rendering="auto"/><rect x="700.5" y="662" width="6.5" height="1" fill="#7070a8" shape-rendering="auto"/><rect x="744.5" y="659" width="6.5" height="1" fill="#7070a8" shape-rendering="auto"/><rect x="744.5" y="662" width="6.5" height="1" fill="#7070a8" shape-rendering="auto"/><rect x="788.5" y="659" width="6.5" height="1" fill="#7070a8" shape-rendering="auto"/><rect x="788.5" y="662" width="6.5" height="1" fill="#7070a8" shape-rendering="auto"/><rect x="832.5" y="659" width="6.5" height="1" fill="#7070a8" shape-rendering="auto"/><rect x="832.5" y="662" width="6.5" height="1" fill="#7070a8" shape-rendering="auto"/><rect x="876.5" y="659" width="6.5" height="1" fill="#7070a8" shape-rendering="auto"/><rect x="876.5" y="662" width="6.5" height="1" fill="#7070a8" shape-rendering="auto"/><rect x="920.5" y="659" width="6.5" height="1" fill="#7070a8" shape-rendering="auto"/><rect x="920.5" y="662" width="6.5" height="1" fill="#7070a8" shape-rendering="auto"/><rect x="156" y="682" width="793" height="15" fill="#000000"/><text transform="translate(56.79 13) scale(0.9966 1.06)" font-size="13" fill="#000000" text-anchor="start" xml:space="preserve">Window Position</text><text transform="translate(338.44 12) scale(0.9865 1.06)" font-size="13" fill="#000000" text-anchor="start" xml:space="preserve">Human Feb. 2009 (GRCh37/hg19)</text><text transform="translate(546.91 12) scale(0.9870 0.95)" font-size="13" fill="#000000" text-anchor="start" xml:space="preserve">chr2:242,535,515-242,535,532 (18 bp)</text><text transform="translate(118.53 30) scale(1.0390 1.06)" font-size="13" fill="#000000" text-anchor="start" xml:space="preserve">Scale</text><text transform="translate(392.70 29) scale(1.0086 0.95)" font-size="13" fill="#000000" text-anchor="start" xml:space="preserve">5 bases</text><text transform="translate(672.11 29) scale(0.9855 0.95)" font-size="13" fill="#000000" text-anchor="start" xml:space="preserve">hg19</text><text transform="translate(122.37 47) scale(1.0497 1.06)" font-size="13" fill="#000000" text-anchor="start" xml:space="preserve">chr2:</text><text transform="translate(346.53 47) scale(0.9946 0.95)" font-size="13" fill="#000000" text-anchor="start" xml:space="preserve">242,535,520</text><text transform="translate(566.53 47) scale(0.9957 0.95)" font-size="13" fill="#000000" text-anchor="start" xml:space="preserve">242,535,525</text><text transform="translate(786.53 47) scale(0.9946 0.95)" font-size="13" fill="#000000" text-anchor="start" xml:space="preserve">242,535,530</text><text transform="translate(131.77 61.3) scale(0.9644 0.8)" font-size="13" fill="#000000" text-anchor="start" xml:space="preserve">---&gt;</text><text transform="translate(431.90 78) scale(1.0100 1.06)" font-size="13" fill="#000000" text-anchor="start" xml:space="preserve">GENCODE V49lift37 (2 items filtered out)</text><text transform="translate(109.68 92) scale(1.0236 1.06)" font-size="13" fill="#0c0c78" text-anchor="start" xml:space="preserve">THAP4</text><text transform="translate(109.68 108) scale(1.0236 1.06)" font-size="13" fill="#0c0c78" text-anchor="start" xml:space="preserve">THAP4</text><text transform="translate(109.68 124) scale(1.0236 1.06)" font-size="13" fill="#0c0c78" text-anchor="start" xml:space="preserve">THAP4</text><text transform="translate(109.68 140) scale(1.0236 1.06)" font-size="13" fill="#0c0c78" text-anchor="start" xml:space="preserve">THAP4</text><text transform="translate(109.68 156) scale(1.0236 1.06)" font-size="13" fill="#1478b4" text-anchor="start" xml:space="preserve">THAP4</text><text transform="translate(109.68 172) scale(1.0236 1.06)" font-size="13" fill="#0c0c78" text-anchor="start" xml:space="preserve">THAP4</text><text transform="translate(109.68 188) scale(1.0236 1.06)" font-size="13" fill="#0c0c78" text-anchor="start" xml:space="preserve">THAP4</text><text transform="translate(490.40 204) scale(0.9997 1.06)" font-size="11" fill="#000000" text-anchor="start" xml:space="preserve">RefSeq genes from NCBI</text><text transform="translate(59.33 219) scale(0.9997 1.06)" font-size="13" fill="#0c0c78" text-anchor="start" xml:space="preserve">RefSeq Curated</text><text transform="translate(444.41 235) scale(0.9887 1.06)" font-size="11" fill="#000000" text-anchor="start" xml:space="preserve">Publications: Sequences in Scientific Articles</text><text transform="translate(86.57 250) scale(0.9993 1.06)" font-size="13" fill="#000000" text-anchor="start" xml:space="preserve">Sequences</text><text transform="translate(117.55 266) scale(1.0224 1.06)" font-size="13" fill="#000000" text-anchor="start" xml:space="preserve">SNPs</text><text transform="translate(367.83 283) scale(1.0042 1.06)" font-size="13" fill="#0a640a" text-anchor="start" xml:space="preserve">OMIM Gene Phenotypes - Dark Green Can Be Disease-causing</text><text transform="translate(73.73 297) scale(1.0071 1.06)" font-size="13" fill="#0a640a" text-anchor="start" xml:space="preserve">OMIM Genes</text><text transform="translate(435.78 313) scale(0.9967 1.06)" font-size="11" fill="#000000" text-anchor="start" xml:space="preserve">Short Genetic Variants from dbSNP release 155</text><text transform="translate(25.90 328) scale(0.9904 1.06)" font-size="13" fill="#000000" text-anchor="start" xml:space="preserve">Common dbSNP(155)</text><text transform="translate(266.00 345) scale(1.0115 1.06)" font-size="13" fill="#000000" text-anchor="start" xml:space="preserve">Gene Expression in 54 tissues from GTEx RNA-seq of 17382 samples, 948 donors (V8, Aug 2019)</text><text transform="translate(110.29 381) scale(0.9944 1.06)" font-size="13" fill="#000000" text-anchor="start" xml:space="preserve">THAP4</text><text transform="translate(280.31 417) scale(1.0104 1.06)" font-size="13" fill="#000000" text-anchor="start" xml:space="preserve">H3K27Ac Mark (Often Found Near Active Regulatory Elements) on 7 cell lines from ENCODE</text><text transform="translate(12.53 432) scale(0.9994 1.06)" font-size="13" fill="#000000" text-anchor="start" xml:space="preserve">Layered H3K27Ac</text><text transform="translate(115.69 463) scale(1.0055 1.06)" font-size="13" fill="#4a4a96" text-anchor="start" xml:space="preserve">4.88 _</text><text transform="translate(405.51 463.5) scale(1.0064 1.06)" font-size="13" fill="#4a4a96" text-anchor="start" xml:space="preserve">100 vertebrates Basewise Conservation by PhyloP</text><text transform="translate(12.60 488) scale(1.0136 1.06)" font-size="13" fill="#4a4a96" text-anchor="start" xml:space="preserve">100 Vert. Cons</text><text transform="translate(118.81 513) scale(0.9953 1.06)" font-size="13" fill="#8c4a46" text-anchor="start" xml:space="preserve">-4.5 _</text><text transform="translate(444.20 530) scale(1.0217 1.06)" font-size="13" fill="#0c0c78" text-anchor="start" xml:space="preserve">Multiz Alignments of 100 Vertebrates</text><text transform="translate(120.71 543.6) scale(0.9938 1.06)" font-size="13" fill="#e08a1e" text-anchor="start" xml:space="preserve">Gaps</text><text transform="translate(110.32 558.6) scale(1.0078 1.06)" font-size="13" fill="#0c0c78" text-anchor="start" xml:space="preserve">Human</text><text transform="translate(107.51 573.6) scale(1.0117 1.06)" font-size="13" fill="#0c0c78" text-anchor="start" xml:space="preserve">Rhesus</text><text transform="translate(112.51 588.6) scale(1.0169 1.06)" font-size="13" fill="#0a640a" text-anchor="start" xml:space="preserve">Mouse</text><text transform="translate(128.52 603.6) scale(1.0064 1.06)" font-size="13" fill="#0c0c78" text-anchor="start" xml:space="preserve">Dog</text><text transform="translate(100.33 618.6) scale(0.9994 1.06)" font-size="13" fill="#0a640a" text-anchor="start" xml:space="preserve">Elephant</text><text transform="translate(104.68 633.6) scale(1.0148 1.06)" font-size="13" fill="#0a640a" text-anchor="start" xml:space="preserve">Chicken</text><text transform="translate(83.77 648.6) scale(1.0188 1.06)" font-size="13" fill="#0c0c78" text-anchor="start" xml:space="preserve">X_tropicalis</text><text transform="translate(97.57 663.6) scale(1.0103 1.06)" font-size="13" fill="#0a640a" text-anchor="start" xml:space="preserve">Zebrafish</text><text transform="translate(440.72 679.5) scale(1.0039 1.06)" font-size="13" fill="#000000" text-anchor="start" xml:space="preserve">Repeating Elements by RepeatMasker</text><text transform="translate(67.93 694) scale(0.9936 1.06)" font-size="13" fill="#000000" text-anchor="start" xml:space="preserve">RepeatMasker</text></svg></body></html>
